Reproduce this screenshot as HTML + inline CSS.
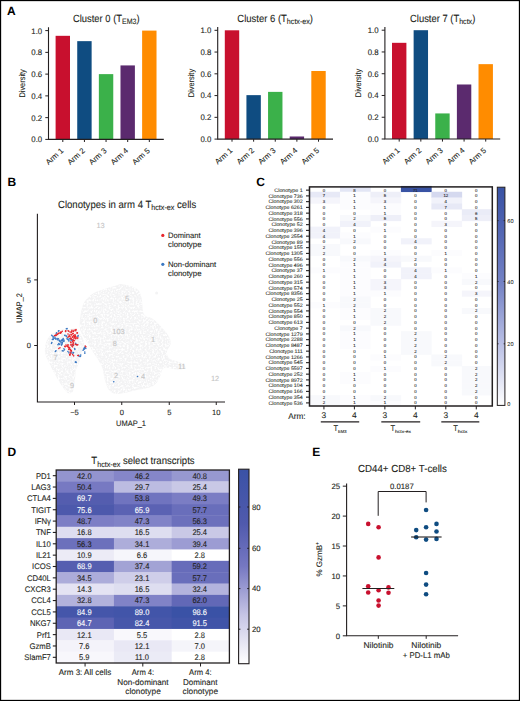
<!DOCTYPE html>
<html><head><meta charset="utf-8"><style>
html,body{margin:0;padding:0;background:#fff;width:520px;height:701px;overflow:hidden;}
svg{display:block;}
text{font-family:"Liberation Sans", sans-serif;text-rendering:geometricPrecision;stroke:#231f20;stroke-width:0.1px;}
</style></head><body>
<svg width="520" height="701" viewBox="0 0 520 701" fill="#231f20">
<rect width="520" height="701" fill="#fff"/>
<rect x="0.5" y="0.5" width="519" height="700" fill="none" stroke="#000" stroke-width="1.3"/>
<text x="6.90" y="15.20" font-size="12" fill="#000" font-weight="bold" style="stroke:none">A</text>
<text x="7.50" y="186.30" font-size="12" fill="#000" font-weight="bold" style="stroke:none">B</text>
<text x="256.20" y="186.20" font-size="12" fill="#000" font-weight="bold" style="stroke:none">C</text>
<text x="7.50" y="455.50" font-size="12" fill="#000" font-weight="bold" style="stroke:none">D</text>
<text x="312.30" y="455.70" font-size="12" fill="#000" font-weight="bold" style="stroke:none">E</text>
<rect x="55.60" y="35.82" width="14.4" height="103.58" fill="#c8102e"/>
<rect x="77.23" y="41.15" width="14.4" height="98.25" fill="#0f4c81"/>
<rect x="98.86" y="74.12" width="14.4" height="65.28" fill="#3bb14a"/>
<rect x="120.49" y="65.42" width="14.4" height="73.98" fill="#5b2a6e"/>
<rect x="142.12" y="30.60" width="14.4" height="108.80" fill="#ff8c00"/>
<path d="M48.50 27.30 V139.40 H163.80" fill="none" stroke="#231f20" stroke-width="1.1"/>
<line x1="45.30" y1="139.40" x2="48.50" y2="139.40" stroke="#231f20" stroke-width="1"/>
<text x="42.20" y="142.30" font-size="8.0" text-anchor="end" textLength="10.90" lengthAdjust="spacingAndGlyphs">0.0</text>
<line x1="45.30" y1="117.64" x2="48.50" y2="117.64" stroke="#231f20" stroke-width="1"/>
<text x="42.20" y="120.54" font-size="8.0" text-anchor="end" textLength="10.90" lengthAdjust="spacingAndGlyphs">0.2</text>
<line x1="45.30" y1="95.88" x2="48.50" y2="95.88" stroke="#231f20" stroke-width="1"/>
<text x="42.20" y="98.78" font-size="8.0" text-anchor="end" textLength="10.90" lengthAdjust="spacingAndGlyphs">0.4</text>
<line x1="45.30" y1="74.12" x2="48.50" y2="74.12" stroke="#231f20" stroke-width="1"/>
<text x="42.20" y="77.02" font-size="8.0" text-anchor="end" textLength="10.90" lengthAdjust="spacingAndGlyphs">0.6</text>
<line x1="45.30" y1="52.36" x2="48.50" y2="52.36" stroke="#231f20" stroke-width="1"/>
<text x="42.20" y="55.26" font-size="8.0" text-anchor="end" textLength="10.90" lengthAdjust="spacingAndGlyphs">0.8</text>
<line x1="45.30" y1="30.60" x2="48.50" y2="30.60" stroke="#231f20" stroke-width="1"/>
<text x="42.20" y="33.50" font-size="8.0" text-anchor="end" textLength="10.90" lengthAdjust="spacingAndGlyphs">1.0</text>
<line x1="62.80" y1="139.40" x2="62.80" y2="142.00" stroke="#231f20" stroke-width="1"/>
<text transform="translate(60.50,147.70) rotate(-42)" font-size="7.7" text-anchor="end" dy="5.0">Arm 1</text>
<line x1="84.43" y1="139.40" x2="84.43" y2="142.00" stroke="#231f20" stroke-width="1"/>
<text transform="translate(82.13,147.70) rotate(-42)" font-size="7.7" text-anchor="end" dy="5.0">Arm 2</text>
<line x1="106.06" y1="139.40" x2="106.06" y2="142.00" stroke="#231f20" stroke-width="1"/>
<text transform="translate(103.76,147.70) rotate(-42)" font-size="7.7" text-anchor="end" dy="5.0">Arm 3</text>
<line x1="127.69" y1="139.40" x2="127.69" y2="142.00" stroke="#231f20" stroke-width="1"/>
<text transform="translate(125.39,147.70) rotate(-42)" font-size="7.7" text-anchor="end" dy="5.0">Arm 4</text>
<line x1="149.32" y1="139.40" x2="149.32" y2="142.00" stroke="#231f20" stroke-width="1"/>
<text transform="translate(147.02,147.70) rotate(-42)" font-size="7.7" text-anchor="end" dy="5.0">Arm 5</text>
<text transform="translate(24.90,83.40) rotate(-90)" font-size="8.2" text-anchor="middle" textLength="28.40" lengthAdjust="spacingAndGlyphs" dy="0">Diversity</text>
<text x="73.00" y="22.20" font-size="10.4" textLength="66.60" lengthAdjust="spacingAndGlyphs">Cluster 0 (T<tspan font-size="7.8" dy="2.2">EM3</tspan><tspan dy="-2.2">)</tspan></text>
<rect x="224.80" y="30.30" width="14.4" height="108.80" fill="#c8102e"/>
<rect x="246.43" y="95.14" width="14.4" height="43.96" fill="#0f4c81"/>
<rect x="268.06" y="91.88" width="14.4" height="47.22" fill="#3bb14a"/>
<rect x="289.69" y="136.49" width="14.4" height="2.61" fill="#5b2a6e"/>
<rect x="311.32" y="70.99" width="14.4" height="68.11" fill="#ff8c00"/>
<path d="M217.70 27.00 V139.10 H333.00" fill="none" stroke="#231f20" stroke-width="1.1"/>
<line x1="214.50" y1="139.10" x2="217.70" y2="139.10" stroke="#231f20" stroke-width="1"/>
<text x="211.40" y="142.00" font-size="8.0" text-anchor="end" textLength="10.90" lengthAdjust="spacingAndGlyphs">0.0</text>
<line x1="214.50" y1="117.34" x2="217.70" y2="117.34" stroke="#231f20" stroke-width="1"/>
<text x="211.40" y="120.24" font-size="8.0" text-anchor="end" textLength="10.90" lengthAdjust="spacingAndGlyphs">0.2</text>
<line x1="214.50" y1="95.58" x2="217.70" y2="95.58" stroke="#231f20" stroke-width="1"/>
<text x="211.40" y="98.48" font-size="8.0" text-anchor="end" textLength="10.90" lengthAdjust="spacingAndGlyphs">0.4</text>
<line x1="214.50" y1="73.82" x2="217.70" y2="73.82" stroke="#231f20" stroke-width="1"/>
<text x="211.40" y="76.72" font-size="8.0" text-anchor="end" textLength="10.90" lengthAdjust="spacingAndGlyphs">0.6</text>
<line x1="214.50" y1="52.06" x2="217.70" y2="52.06" stroke="#231f20" stroke-width="1"/>
<text x="211.40" y="54.96" font-size="8.0" text-anchor="end" textLength="10.90" lengthAdjust="spacingAndGlyphs">0.8</text>
<line x1="214.50" y1="30.30" x2="217.70" y2="30.30" stroke="#231f20" stroke-width="1"/>
<text x="211.40" y="33.20" font-size="8.0" text-anchor="end" textLength="10.90" lengthAdjust="spacingAndGlyphs">1.0</text>
<line x1="232.00" y1="139.10" x2="232.00" y2="141.70" stroke="#231f20" stroke-width="1"/>
<text transform="translate(229.70,147.40) rotate(-42)" font-size="7.7" text-anchor="end" dy="5.0">Arm 1</text>
<line x1="253.63" y1="139.10" x2="253.63" y2="141.70" stroke="#231f20" stroke-width="1"/>
<text transform="translate(251.33,147.40) rotate(-42)" font-size="7.7" text-anchor="end" dy="5.0">Arm 2</text>
<line x1="275.26" y1="139.10" x2="275.26" y2="141.70" stroke="#231f20" stroke-width="1"/>
<text transform="translate(272.96,147.40) rotate(-42)" font-size="7.7" text-anchor="end" dy="5.0">Arm 3</text>
<line x1="296.89" y1="139.10" x2="296.89" y2="141.70" stroke="#231f20" stroke-width="1"/>
<text transform="translate(294.59,147.40) rotate(-42)" font-size="7.7" text-anchor="end" dy="5.0">Arm 4</text>
<line x1="318.52" y1="139.10" x2="318.52" y2="141.70" stroke="#231f20" stroke-width="1"/>
<text transform="translate(316.22,147.40) rotate(-42)" font-size="7.7" text-anchor="end" dy="5.0">Arm 5</text>
<text transform="translate(194.10,83.10) rotate(-90)" font-size="8.2" text-anchor="middle" textLength="28.40" lengthAdjust="spacingAndGlyphs" dy="0">Diversity</text>
<text x="237.30" y="21.90" font-size="10.4" textLength="75.70" lengthAdjust="spacingAndGlyphs">Cluster 6 (T<tspan font-size="7.8" dy="2.2">hctx-ex</tspan><tspan dy="-2.2">)</tspan></text>
<rect x="392.00" y="42.82" width="14.4" height="96.18" fill="#c8102e"/>
<rect x="413.63" y="30.20" width="14.4" height="108.80" fill="#0f4c81"/>
<rect x="435.26" y="113.43" width="14.4" height="25.57" fill="#3bb14a"/>
<rect x="456.89" y="84.49" width="14.4" height="54.51" fill="#5b2a6e"/>
<rect x="478.52" y="64.15" width="14.4" height="74.85" fill="#ff8c00"/>
<path d="M384.90 26.90 V139.00 H500.20" fill="none" stroke="#231f20" stroke-width="1.1"/>
<line x1="381.70" y1="139.00" x2="384.90" y2="139.00" stroke="#231f20" stroke-width="1"/>
<text x="378.60" y="141.90" font-size="8.0" text-anchor="end" textLength="10.90" lengthAdjust="spacingAndGlyphs">0.0</text>
<line x1="381.70" y1="117.24" x2="384.90" y2="117.24" stroke="#231f20" stroke-width="1"/>
<text x="378.60" y="120.14" font-size="8.0" text-anchor="end" textLength="10.90" lengthAdjust="spacingAndGlyphs">0.2</text>
<line x1="381.70" y1="95.48" x2="384.90" y2="95.48" stroke="#231f20" stroke-width="1"/>
<text x="378.60" y="98.38" font-size="8.0" text-anchor="end" textLength="10.90" lengthAdjust="spacingAndGlyphs">0.4</text>
<line x1="381.70" y1="73.72" x2="384.90" y2="73.72" stroke="#231f20" stroke-width="1"/>
<text x="378.60" y="76.62" font-size="8.0" text-anchor="end" textLength="10.90" lengthAdjust="spacingAndGlyphs">0.6</text>
<line x1="381.70" y1="51.96" x2="384.90" y2="51.96" stroke="#231f20" stroke-width="1"/>
<text x="378.60" y="54.86" font-size="8.0" text-anchor="end" textLength="10.90" lengthAdjust="spacingAndGlyphs">0.8</text>
<line x1="381.70" y1="30.20" x2="384.90" y2="30.20" stroke="#231f20" stroke-width="1"/>
<text x="378.60" y="33.10" font-size="8.0" text-anchor="end" textLength="10.90" lengthAdjust="spacingAndGlyphs">1.0</text>
<line x1="399.20" y1="139.00" x2="399.20" y2="141.60" stroke="#231f20" stroke-width="1"/>
<text transform="translate(396.90,147.30) rotate(-42)" font-size="7.7" text-anchor="end" dy="5.0">Arm 1</text>
<line x1="420.83" y1="139.00" x2="420.83" y2="141.60" stroke="#231f20" stroke-width="1"/>
<text transform="translate(418.53,147.30) rotate(-42)" font-size="7.7" text-anchor="end" dy="5.0">Arm 2</text>
<line x1="442.46" y1="139.00" x2="442.46" y2="141.60" stroke="#231f20" stroke-width="1"/>
<text transform="translate(440.16,147.30) rotate(-42)" font-size="7.7" text-anchor="end" dy="5.0">Arm 3</text>
<line x1="464.09" y1="139.00" x2="464.09" y2="141.60" stroke="#231f20" stroke-width="1"/>
<text transform="translate(461.79,147.30) rotate(-42)" font-size="7.7" text-anchor="end" dy="5.0">Arm 4</text>
<line x1="485.72" y1="139.00" x2="485.72" y2="141.60" stroke="#231f20" stroke-width="1"/>
<text transform="translate(483.42,147.30) rotate(-42)" font-size="7.7" text-anchor="end" dy="5.0">Arm 5</text>
<text transform="translate(361.30,83.00) rotate(-90)" font-size="8.2" text-anchor="middle" textLength="28.40" lengthAdjust="spacingAndGlyphs" dy="0">Diversity</text>
<text x="410.00" y="21.80" font-size="10.4" textLength="65.30" lengthAdjust="spacingAndGlyphs">Cluster 7 (T<tspan font-size="7.8" dy="2.2">hctx</tspan><tspan dy="-2.2">)</tspan></text>
<text x="58" y="207.7" font-size="10.4" textLength="138.2" lengthAdjust="spacingAndGlyphs">Clonotypes in arm 4 T<tspan font-size="7.8" dy="2.2">hctx-ex</tspan><tspan dy="-2.2"> cells</tspan></text>
<defs><filter id="speck" x="0" y="0" width="1" height="1"><feTurbulence type="fractalNoise" baseFrequency="0.55" numOctaves="2" seed="7" result="n"/><feColorMatrix in="n" type="matrix" values="0 0 0 0 1  0 0 0 0 1  0 0 0 0 1  0 0 0 -3.5 2.0" result="w"/><feComposite in="w" in2="SourceGraphic" operator="in" result="wm"/><feMerge><feMergeNode in="SourceGraphic"/><feMergeNode in="wm"/></feMerge></filter></defs>
<g filter="url(#speck)"><path d="M123.1 284.2 C126.6 284.8 133.9 286.6 137.0 288.9 C140.1 291.2 140.4 293.9 141.6 298.1 C142.8 302.3 142.0 310.8 143.9 314.3 C145.8 317.8 150.0 316.6 153.1 318.9 C156.2 321.2 159.7 325.0 162.4 328.1 C165.1 331.2 168.0 334.7 169.3 337.4 C170.7 340.1 170.9 342.0 170.5 344.3 C170.1 346.6 167.2 348.8 167.0 351.2 C166.8 353.6 167.0 356.6 169.3 358.5 C171.6 360.4 178.2 361.3 180.9 362.8 C183.6 364.3 185.9 366.2 185.5 367.4 C185.1 368.5 182.1 369.6 178.5 369.7 C174.9 369.8 167.1 366.9 164.0 368.0 C160.9 369.1 161.8 373.6 160.0 376.6 C158.2 379.6 157.3 383.6 153.1 385.9 C148.9 388.2 140.5 389.2 134.7 390.5 C128.9 391.8 122.7 393.9 118.5 393.9 C114.3 393.9 111.6 393.0 109.3 390.5 C107.0 388.0 105.8 382.8 104.6 378.9 C103.4 375.0 103.8 371.2 102.3 367.4 C100.8 363.5 97.7 359.6 95.4 355.8 C93.1 352.0 91.0 348.5 88.5 344.3 C86.0 340.1 81.8 335.0 80.4 330.4 C79.1 325.8 79.8 321.2 80.4 316.6 C81.0 312.0 81.8 306.6 83.9 302.7 C86.0 298.8 89.6 295.8 93.1 293.5 C96.5 291.2 100.8 290.2 104.6 288.9 C108.4 287.5 113.1 286.2 116.2 285.4 C119.3 284.6 119.6 283.6 123.1 284.2 Z" fill="#f3f3f4"/><path d="M44.9 349.0 C45.1 346.3 45.8 342.5 47.0 340.0 C48.2 337.5 49.7 335.6 51.9 333.9 C54.1 332.2 57.0 330.8 60.0 330.0 C63.0 329.2 67.2 329.1 70.0 329.0 C72.8 328.9 74.5 327.7 76.8 329.7 C79.1 331.7 82.8 337.1 83.7 340.8 C84.6 344.5 82.7 348.6 82.0 352.0 C81.3 355.4 80.5 358.5 79.5 361.5 C78.5 364.5 76.7 367.7 76.0 370.0 C75.3 372.3 75.7 372.9 75.4 375.4 C75.1 377.9 74.5 382.2 74.0 385.0 C73.5 387.8 73.6 390.7 72.6 392.0 C71.6 393.3 69.4 393.4 68.0 393.0 C66.6 392.6 66.1 391.8 64.3 389.3 C62.5 386.8 59.3 381.9 57.0 378.0 C54.7 374.1 52.3 369.4 50.5 365.7 C48.7 362.0 46.9 358.8 46.0 356.0 C45.1 353.2 44.7 351.7 44.9 349.0 Z" fill="#f3f3f4"/></g>
<circle cx="156.6" cy="293" r="1.5" fill="#f3f3f4"/>
<text x="100.50" y="228.00" font-size="7.4" text-anchor="middle" fill="#c4c4c4" style="stroke:#c4c4c4">13</text>
<text x="127.00" y="301.00" font-size="7.4" text-anchor="middle" fill="#c4c4c4" style="stroke:#c4c4c4">5</text>
<text x="95.40" y="323.00" font-size="7.4" text-anchor="middle" fill="#c4c4c4" style="stroke:#c4c4c4">0</text>
<text x="118.50" y="333.50" font-size="7.4" text-anchor="middle" fill="#c4c4c4" style="stroke:#c4c4c4">103</text>
<text x="114.80" y="346.30" font-size="7.4" text-anchor="middle" fill="#c4c4c4" style="stroke:#c4c4c4">8</text>
<text x="153.00" y="342.00" font-size="7.4" text-anchor="middle" fill="#c4c4c4" style="stroke:#c4c4c4">1</text>
<text x="55.60" y="360.20" font-size="7.4" text-anchor="middle" fill="#c4c4c4" style="stroke:#c4c4c4">7</text>
<text x="72.00" y="388.20" font-size="7.4" text-anchor="middle" fill="#c4c4c4" style="stroke:#c4c4c4">9</text>
<text x="116.00" y="378.00" font-size="7.4" text-anchor="middle" fill="#c4c4c4" style="stroke:#c4c4c4">2</text>
<text x="143.00" y="379.30" font-size="7.4" text-anchor="middle" fill="#c4c4c4" style="stroke:#c4c4c4">4</text>
<text x="181.80" y="369.30" font-size="7.4" text-anchor="middle" fill="#c4c4c4" style="stroke:#c4c4c4">11</text>
<text x="215.00" y="380.80" font-size="7.4" text-anchor="middle" fill="#c4c4c4" style="stroke:#c4c4c4">12</text>
<path d="M37.4 213.7 V402 H225" fill="none" stroke="#231f20" stroke-width="1.1"/>
<line x1="34.20" y1="279.90" x2="37.40" y2="279.90" stroke="#231f20" stroke-width="1"/>
<text x="30.90" y="282.60" font-size="7.6" text-anchor="end">5</text>
<line x1="34.20" y1="345.50" x2="37.40" y2="345.50" stroke="#231f20" stroke-width="1"/>
<text x="30.90" y="348.20" font-size="7.6" text-anchor="end">0</text>
<line x1="74.50" y1="402.00" x2="74.50" y2="405.00" stroke="#231f20" stroke-width="1"/>
<text x="74.50" y="414.50" font-size="7.6" text-anchor="middle">−5</text>
<line x1="121.75" y1="402.00" x2="121.75" y2="405.00" stroke="#231f20" stroke-width="1"/>
<text x="121.75" y="414.50" font-size="7.6" text-anchor="middle">0</text>
<line x1="169.25" y1="402.00" x2="169.25" y2="405.00" stroke="#231f20" stroke-width="1"/>
<text x="169.25" y="414.50" font-size="7.6" text-anchor="middle">5</text>
<line x1="216.25" y1="402.00" x2="216.25" y2="405.00" stroke="#231f20" stroke-width="1"/>
<text x="216.25" y="414.50" font-size="7.6" text-anchor="middle">10</text>
<text x="131.00" y="426.30" font-size="8.0" text-anchor="middle" textLength="30.00" lengthAdjust="spacingAndGlyphs">UMAP_1</text>
<text transform="translate(21.60,307.90) rotate(-90)" font-size="8.0" text-anchor="middle" textLength="29.70" lengthAdjust="spacingAndGlyphs" dy="0">UMAP_2</text>
<circle cx="162.8" cy="235.4" r="1.6" fill="#e8262c"/>
<text x="168.00" y="237.80" font-size="7.8" textLength="32.50" lengthAdjust="spacingAndGlyphs">Dominant</text>
<text x="168.00" y="247.00" font-size="7.8" textLength="33.50" lengthAdjust="spacingAndGlyphs">clonotype</text>
<circle cx="162.8" cy="264.3" r="1.6" fill="#3a78c3"/>
<text x="168.00" y="266.60" font-size="7.8" textLength="48.20" lengthAdjust="spacingAndGlyphs">Non-dominant</text>
<text x="168.00" y="275.60" font-size="7.8" textLength="33.50" lengthAdjust="spacingAndGlyphs">clonotype</text>
<circle cx="67.06" cy="328.65" r="0.8" fill="#3a78c3"/>
<circle cx="66.38" cy="328.77" r="0.8" fill="#3a78c3"/>
<circle cx="58.84" cy="330.81" r="0.8" fill="#3a78c3"/>
<circle cx="58.50" cy="331.08" r="0.8" fill="#3a78c3"/>
<circle cx="56.25" cy="333.84" r="0.8" fill="#3a78c3"/>
<circle cx="56.57" cy="332.71" r="0.8" fill="#3a78c3"/>
<circle cx="54.52" cy="336.00" r="0.8" fill="#3a78c3"/>
<circle cx="53.25" cy="336.88" r="0.8" fill="#3a78c3"/>
<circle cx="52.35" cy="336.00" r="0.8" fill="#3a78c3"/>
<circle cx="51.73" cy="335.31" r="0.8" fill="#3a78c3"/>
<circle cx="53.22" cy="338.17" r="0.8" fill="#3a78c3"/>
<circle cx="54.51" cy="338.09" r="0.8" fill="#3a78c3"/>
<circle cx="52.35" cy="339.46" r="0.8" fill="#3a78c3"/>
<circle cx="53.23" cy="339.40" r="0.8" fill="#3a78c3"/>
<circle cx="51.49" cy="343.36" r="0.8" fill="#3a78c3"/>
<circle cx="51.85" cy="342.45" r="0.8" fill="#3a78c3"/>
<circle cx="55.38" cy="338.17" r="0.8" fill="#3a78c3"/>
<circle cx="55.73" cy="339.12" r="0.8" fill="#3a78c3"/>
<circle cx="57.11" cy="338.60" r="0.8" fill="#3a78c3"/>
<circle cx="57.17" cy="339.23" r="0.8" fill="#3a78c3"/>
<circle cx="57.98" cy="339.90" r="0.8" fill="#3a78c3"/>
<circle cx="58.42" cy="338.76" r="0.8" fill="#3a78c3"/>
<circle cx="59.27" cy="340.76" r="0.8" fill="#3a78c3"/>
<circle cx="59.94" cy="341.00" r="0.8" fill="#3a78c3"/>
<circle cx="60.14" cy="341.63" r="0.8" fill="#3a78c3"/>
<circle cx="59.62" cy="340.41" r="0.8" fill="#3a78c3"/>
<circle cx="61.44" cy="340.33" r="0.8" fill="#3a78c3"/>
<circle cx="62.39" cy="340.26" r="0.8" fill="#3a78c3"/>
<circle cx="62.30" cy="339.46" r="0.8" fill="#3a78c3"/>
<circle cx="62.87" cy="340.45" r="0.8" fill="#3a78c3"/>
<circle cx="63.17" cy="338.60" r="0.8" fill="#3a78c3"/>
<circle cx="63.72" cy="339.69" r="0.8" fill="#3a78c3"/>
<circle cx="64.03" cy="340.76" r="0.8" fill="#3a78c3"/>
<circle cx="63.76" cy="341.54" r="0.8" fill="#3a78c3"/>
<circle cx="62.30" cy="342.49" r="0.8" fill="#3a78c3"/>
<circle cx="62.16" cy="343.62" r="0.8" fill="#3a78c3"/>
<circle cx="61.00" cy="342.92" r="0.8" fill="#3a78c3"/>
<circle cx="61.99" cy="341.88" r="0.8" fill="#3a78c3"/>
<circle cx="59.71" cy="344.22" r="0.8" fill="#3a78c3"/>
<circle cx="58.76" cy="343.49" r="0.8" fill="#3a78c3"/>
<circle cx="57.98" cy="344.65" r="0.8" fill="#3a78c3"/>
<circle cx="59.19" cy="344.49" r="0.8" fill="#3a78c3"/>
<circle cx="61.44" cy="345.09" r="0.8" fill="#3a78c3"/>
<circle cx="61.77" cy="344.57" r="0.8" fill="#3a78c3"/>
<circle cx="64.90" cy="335.57" r="0.8" fill="#3a78c3"/>
<circle cx="64.92" cy="335.27" r="0.8" fill="#3a78c3"/>
<circle cx="66.63" cy="336.00" r="0.8" fill="#3a78c3"/>
<circle cx="66.24" cy="336.22" r="0.8" fill="#3a78c3"/>
<circle cx="67.06" cy="338.17" r="0.8" fill="#3a78c3"/>
<circle cx="67.28" cy="339.22" r="0.8" fill="#3a78c3"/>
<circle cx="68.36" cy="339.90" r="0.8" fill="#3a78c3"/>
<circle cx="68.83" cy="341.01" r="0.8" fill="#3a78c3"/>
<circle cx="69.22" cy="338.60" r="0.8" fill="#3a78c3"/>
<circle cx="70.15" cy="339.88" r="0.8" fill="#3a78c3"/>
<circle cx="71.82" cy="340.76" r="0.8" fill="#3a78c3"/>
<circle cx="72.26" cy="339.89" r="0.8" fill="#3a78c3"/>
<circle cx="75.71" cy="343.36" r="0.8" fill="#3a78c3"/>
<circle cx="76.65" cy="344.56" r="0.8" fill="#3a78c3"/>
<circle cx="72.25" cy="345.09" r="0.8" fill="#3a78c3"/>
<circle cx="73.30" cy="345.27" r="0.8" fill="#3a78c3"/>
<circle cx="55.38" cy="351.57" r="0.8" fill="#3a78c3"/>
<circle cx="55.94" cy="350.82" r="0.8" fill="#3a78c3"/>
<circle cx="62.30" cy="350.71" r="0.8" fill="#3a78c3"/>
<circle cx="63.16" cy="350.90" r="0.8" fill="#3a78c3"/>
<circle cx="64.46" cy="349.84" r="0.8" fill="#3a78c3"/>
<circle cx="63.90" cy="348.71" r="0.8" fill="#3a78c3"/>
<circle cx="67.92" cy="351.57" r="0.8" fill="#3a78c3"/>
<circle cx="68.84" cy="352.85" r="0.8" fill="#3a78c3"/>
<circle cx="71.82" cy="352.01" r="0.8" fill="#3a78c3"/>
<circle cx="70.75" cy="352.79" r="0.8" fill="#3a78c3"/>
<circle cx="74.84" cy="349.41" r="0.8" fill="#3a78c3"/>
<circle cx="74.61" cy="348.50" r="0.8" fill="#3a78c3"/>
<circle cx="73.55" cy="352.44" r="0.8" fill="#3a78c3"/>
<circle cx="73.01" cy="353.14" r="0.8" fill="#3a78c3"/>
<circle cx="83.06" cy="350.28" r="0.8" fill="#3a78c3"/>
<circle cx="84.03" cy="349.09" r="0.8" fill="#3a78c3"/>
<circle cx="83.93" cy="349.41" r="0.8" fill="#3a78c3"/>
<circle cx="84.23" cy="348.23" r="0.8" fill="#3a78c3"/>
<circle cx="84.36" cy="348.11" r="0.8" fill="#3a78c3"/>
<circle cx="84.93" cy="347.67" r="0.8" fill="#3a78c3"/>
<circle cx="84.79" cy="347.25" r="0.8" fill="#3a78c3"/>
<circle cx="85.78" cy="348.50" r="0.8" fill="#3a78c3"/>
<circle cx="84.79" cy="352.01" r="0.8" fill="#3a78c3"/>
<circle cx="84.81" cy="353.30" r="0.8" fill="#3a78c3"/>
<circle cx="79.17" cy="356.33" r="0.8" fill="#3a78c3"/>
<circle cx="78.67" cy="355.23" r="0.8" fill="#3a78c3"/>
<circle cx="80.47" cy="356.33" r="0.8" fill="#3a78c3"/>
<circle cx="80.73" cy="355.11" r="0.8" fill="#3a78c3"/>
<circle cx="76.14" cy="362.39" r="0.8" fill="#3a78c3"/>
<circle cx="75.36" cy="362.15" r="0.8" fill="#3a78c3"/>
<circle cx="77.87" cy="336.44" r="0.8" fill="#3a78c3"/>
<circle cx="78.16" cy="335.54" r="0.8" fill="#3a78c3"/>
<circle cx="62.30" cy="331.25" r="0.8" fill="#e8262c"/>
<circle cx="61.11" cy="332.20" r="0.8" fill="#e8262c"/>
<circle cx="61.00" cy="332.11" r="0.8" fill="#e8262c"/>
<circle cx="60.52" cy="333.30" r="0.8" fill="#e8262c"/>
<circle cx="59.71" cy="332.98" r="0.8" fill="#e8262c"/>
<circle cx="60.74" cy="332.66" r="0.8" fill="#e8262c"/>
<circle cx="58.41" cy="333.41" r="0.8" fill="#e8262c"/>
<circle cx="58.31" cy="333.46" r="0.8" fill="#e8262c"/>
<circle cx="57.11" cy="334.27" r="0.8" fill="#e8262c"/>
<circle cx="57.48" cy="334.52" r="0.8" fill="#e8262c"/>
<circle cx="55.81" cy="335.14" r="0.8" fill="#e8262c"/>
<circle cx="55.97" cy="335.45" r="0.8" fill="#e8262c"/>
<circle cx="54.52" cy="335.57" r="0.8" fill="#e8262c"/>
<circle cx="55.66" cy="335.59" r="0.8" fill="#e8262c"/>
<circle cx="65.76" cy="330.81" r="0.8" fill="#e8262c"/>
<circle cx="65.58" cy="331.39" r="0.8" fill="#e8262c"/>
<circle cx="68.79" cy="331.25" r="0.8" fill="#e8262c"/>
<circle cx="68.11" cy="330.73" r="0.8" fill="#e8262c"/>
<circle cx="70.09" cy="332.11" r="0.8" fill="#e8262c"/>
<circle cx="71.33" cy="332.17" r="0.8" fill="#e8262c"/>
<circle cx="71.82" cy="331.68" r="0.8" fill="#e8262c"/>
<circle cx="71.94" cy="330.41" r="0.8" fill="#e8262c"/>
<circle cx="73.55" cy="331.25" r="0.8" fill="#e8262c"/>
<circle cx="73.33" cy="331.45" r="0.8" fill="#e8262c"/>
<circle cx="75.28" cy="329.95" r="0.8" fill="#e8262c"/>
<circle cx="74.03" cy="330.25" r="0.8" fill="#e8262c"/>
<circle cx="75.71" cy="330.81" r="0.8" fill="#e8262c"/>
<circle cx="76.05" cy="329.67" r="0.8" fill="#e8262c"/>
<circle cx="77.01" cy="332.98" r="0.8" fill="#e8262c"/>
<circle cx="77.34" cy="332.89" r="0.8" fill="#e8262c"/>
<circle cx="72.68" cy="333.84" r="0.8" fill="#e8262c"/>
<circle cx="73.15" cy="333.46" r="0.8" fill="#e8262c"/>
<circle cx="70.95" cy="334.27" r="0.8" fill="#e8262c"/>
<circle cx="71.49" cy="334.89" r="0.8" fill="#e8262c"/>
<circle cx="69.22" cy="335.14" r="0.8" fill="#e8262c"/>
<circle cx="67.98" cy="334.00" r="0.8" fill="#e8262c"/>
<circle cx="73.55" cy="335.57" r="0.8" fill="#e8262c"/>
<circle cx="74.00" cy="336.78" r="0.8" fill="#e8262c"/>
<circle cx="75.28" cy="335.14" r="0.8" fill="#e8262c"/>
<circle cx="74.63" cy="335.02" r="0.8" fill="#e8262c"/>
<circle cx="74.41" cy="336.87" r="0.8" fill="#e8262c"/>
<circle cx="74.65" cy="336.40" r="0.8" fill="#e8262c"/>
<circle cx="72.68" cy="337.30" r="0.8" fill="#e8262c"/>
<circle cx="72.33" cy="336.81" r="0.8" fill="#e8262c"/>
<circle cx="70.95" cy="338.17" r="0.8" fill="#e8262c"/>
<circle cx="70.61" cy="338.41" r="0.8" fill="#e8262c"/>
<circle cx="71.82" cy="339.46" r="0.8" fill="#e8262c"/>
<circle cx="71.30" cy="339.14" r="0.8" fill="#e8262c"/>
<circle cx="73.55" cy="339.03" r="0.8" fill="#e8262c"/>
<circle cx="74.25" cy="337.80" r="0.8" fill="#e8262c"/>
<circle cx="75.28" cy="338.17" r="0.8" fill="#e8262c"/>
<circle cx="75.46" cy="338.78" r="0.8" fill="#e8262c"/>
<circle cx="76.14" cy="337.30" r="0.8" fill="#e8262c"/>
<circle cx="75.65" cy="336.58" r="0.8" fill="#e8262c"/>
<circle cx="77.01" cy="338.60" r="0.8" fill="#e8262c"/>
<circle cx="77.80" cy="337.92" r="0.8" fill="#e8262c"/>
<circle cx="74.41" cy="340.76" r="0.8" fill="#e8262c"/>
<circle cx="73.60" cy="340.59" r="0.8" fill="#e8262c"/>
<circle cx="72.68" cy="341.63" r="0.8" fill="#e8262c"/>
<circle cx="73.20" cy="340.59" r="0.8" fill="#e8262c"/>
<circle cx="70.95" cy="342.49" r="0.8" fill="#e8262c"/>
<circle cx="70.49" cy="342.06" r="0.8" fill="#e8262c"/>
<circle cx="69.22" cy="336.44" r="0.8" fill="#e8262c"/>
<circle cx="70.09" cy="336.28" r="0.8" fill="#e8262c"/>
<circle cx="67.92" cy="337.30" r="0.8" fill="#e8262c"/>
<circle cx="68.85" cy="336.44" r="0.8" fill="#e8262c"/>
<circle cx="73.55" cy="342.92" r="0.8" fill="#e8262c"/>
<circle cx="73.12" cy="343.31" r="0.8" fill="#e8262c"/>
<circle cx="67.49" cy="345.09" r="0.8" fill="#e8262c"/>
<circle cx="68.49" cy="344.96" r="0.8" fill="#e8262c"/>
<circle cx="66.63" cy="345.95" r="0.8" fill="#e8262c"/>
<circle cx="65.91" cy="344.97" r="0.8" fill="#e8262c"/>
<circle cx="70.95" cy="345.09" r="0.8" fill="#e8262c"/>
<circle cx="71.03" cy="344.28" r="0.8" fill="#e8262c"/>
<circle cx="71.82" cy="345.95" r="0.8" fill="#e8262c"/>
<circle cx="72.61" cy="346.83" r="0.8" fill="#e8262c"/>
<circle cx="73.55" cy="345.09" r="0.8" fill="#e8262c"/>
<circle cx="72.72" cy="344.51" r="0.8" fill="#e8262c"/>
<circle cx="75.28" cy="344.22" r="0.8" fill="#e8262c"/>
<circle cx="76.08" cy="344.59" r="0.8" fill="#e8262c"/>
<circle cx="77.01" cy="345.09" r="0.8" fill="#e8262c"/>
<circle cx="77.80" cy="344.68" r="0.8" fill="#e8262c"/>
<circle cx="69.65" cy="347.68" r="0.8" fill="#e8262c"/>
<circle cx="68.69" cy="347.14" r="0.8" fill="#e8262c"/>
<circle cx="68.79" cy="349.41" r="0.8" fill="#e8262c"/>
<circle cx="69.55" cy="348.82" r="0.8" fill="#e8262c"/>
<circle cx="70.52" cy="349.84" r="0.8" fill="#e8262c"/>
<circle cx="70.12" cy="349.63" r="0.8" fill="#e8262c"/>
<circle cx="71.38" cy="350.71" r="0.8" fill="#e8262c"/>
<circle cx="71.18" cy="350.47" r="0.8" fill="#e8262c"/>
<circle cx="70.09" cy="352.01" r="0.8" fill="#e8262c"/>
<circle cx="71.18" cy="351.11" r="0.8" fill="#e8262c"/>
<circle cx="70.95" cy="353.30" r="0.8" fill="#e8262c"/>
<circle cx="69.66" cy="354.46" r="0.8" fill="#e8262c"/>
<circle cx="72.68" cy="354.60" r="0.8" fill="#e8262c"/>
<circle cx="73.67" cy="355.87" r="0.8" fill="#e8262c"/>
<circle cx="70.09" cy="354.17" r="0.8" fill="#e8262c"/>
<circle cx="69.92" cy="355.34" r="0.8" fill="#e8262c"/>
<circle cx="58.84" cy="348.55" r="0.8" fill="#e8262c"/>
<circle cx="59.95" cy="347.82" r="0.8" fill="#e8262c"/>
<circle cx="85.22" cy="345.95" r="0.8" fill="#e8262c"/>
<circle cx="85.86" cy="346.83" r="0.8" fill="#e8262c"/>
<circle cx="77.87" cy="355.47" r="0.8" fill="#e8262c"/>
<circle cx="78.30" cy="355.52" r="0.8" fill="#e8262c"/>
<circle cx="65.33" cy="346.82" r="0.8" fill="#e8262c"/>
<circle cx="64.78" cy="346.40" r="0.8" fill="#e8262c"/>
<circle cx="68.36" cy="347.68" r="0.8" fill="#e8262c"/>
<circle cx="67.65" cy="346.56" r="0.8" fill="#e8262c"/>
<circle cx="75.75" cy="362.00" r="0.8" fill="#3a78c3"/>
<circle cx="113.75" cy="381.75" r="0.8" fill="#3a78c3"/>
<circle cx="137.50" cy="376.50" r="0.8" fill="#3a78c3"/>
<rect x="339.97" y="185.95" width="30.77" height="6.11" fill="#e3e6f5"/>
<rect x="400.90" y="185.95" width="30.77" height="6.11" fill="#3953a4"/>
<rect x="309.50" y="191.76" width="30.77" height="6.11" fill="#e7e9f6"/>
<rect x="339.97" y="191.76" width="30.77" height="6.11" fill="#fcfcfe"/>
<rect x="370.43" y="191.76" width="30.77" height="6.11" fill="#eeeff8"/>
<rect x="431.37" y="191.76" width="30.77" height="6.11" fill="#d5d9ef"/>
<rect x="309.50" y="197.57" width="30.77" height="6.11" fill="#f5f5fb"/>
<rect x="339.97" y="197.57" width="30.77" height="6.11" fill="#fcfcfe"/>
<rect x="370.43" y="197.57" width="30.77" height="6.11" fill="#f5f5fb"/>
<rect x="431.37" y="197.57" width="30.77" height="6.11" fill="#f1f2fa"/>
<rect x="339.97" y="203.39" width="30.77" height="6.11" fill="#fcfcfe"/>
<rect x="370.43" y="203.39" width="30.77" height="6.11" fill="#fcfcfe"/>
<rect x="431.37" y="203.39" width="30.77" height="6.11" fill="#e7e9f6"/>
<rect x="370.43" y="209.20" width="30.77" height="6.11" fill="#fcfcfe"/>
<rect x="461.83" y="209.20" width="30.77" height="6.11" fill="#eaecf7"/>
<rect x="339.97" y="215.01" width="30.77" height="6.11" fill="#f8f9fc"/>
<rect x="370.43" y="215.01" width="30.77" height="6.11" fill="#eeeff8"/>
<rect x="461.83" y="215.01" width="30.77" height="6.11" fill="#eeeff8"/>
<rect x="339.97" y="220.82" width="30.77" height="6.11" fill="#f1f2fa"/>
<rect x="431.37" y="220.82" width="30.77" height="6.11" fill="#f5f5fb"/>
<rect x="309.50" y="226.63" width="30.77" height="6.11" fill="#f1f2fa"/>
<rect x="370.43" y="226.63" width="30.77" height="6.11" fill="#fcfcfe"/>
<rect x="309.50" y="232.44" width="30.77" height="6.11" fill="#f1f2fa"/>
<rect x="339.97" y="232.44" width="30.77" height="6.11" fill="#fcfcfe"/>
<rect x="339.97" y="238.26" width="30.77" height="6.11" fill="#f8f9fc"/>
<rect x="400.90" y="238.26" width="30.77" height="6.11" fill="#f1f2fa"/>
<rect x="309.50" y="244.07" width="30.77" height="6.11" fill="#f8f9fc"/>
<rect x="309.50" y="249.88" width="30.77" height="6.11" fill="#f8f9fc"/>
<rect x="370.43" y="249.88" width="30.77" height="6.11" fill="#fcfcfe"/>
<rect x="431.37" y="249.88" width="30.77" height="6.11" fill="#fcfcfe"/>
<rect x="339.97" y="255.69" width="30.77" height="6.11" fill="#f8f9fc"/>
<rect x="370.43" y="255.69" width="30.77" height="6.11" fill="#f5f5fb"/>
<rect x="400.90" y="255.69" width="30.77" height="6.11" fill="#f8f9fc"/>
<rect x="339.97" y="261.50" width="30.77" height="6.11" fill="#fcfcfe"/>
<rect x="370.43" y="261.50" width="30.77" height="6.11" fill="#f1f2fa"/>
<rect x="309.50" y="267.32" width="30.77" height="6.11" fill="#fcfcfe"/>
<rect x="339.97" y="267.32" width="30.77" height="6.11" fill="#fcfcfe"/>
<rect x="400.90" y="267.32" width="30.77" height="6.11" fill="#f1f2fa"/>
<rect x="431.37" y="267.32" width="30.77" height="6.11" fill="#fcfcfe"/>
<rect x="339.97" y="273.13" width="30.77" height="6.11" fill="#fcfcfe"/>
<rect x="400.90" y="273.13" width="30.77" height="6.11" fill="#f1f2fa"/>
<rect x="461.83" y="273.13" width="30.77" height="6.11" fill="#fcfcfe"/>
<rect x="339.97" y="278.94" width="30.77" height="6.11" fill="#fcfcfe"/>
<rect x="370.43" y="278.94" width="30.77" height="6.11" fill="#f5f5fb"/>
<rect x="461.83" y="278.94" width="30.77" height="6.11" fill="#f8f9fc"/>
<rect x="339.97" y="284.75" width="30.77" height="6.11" fill="#fcfcfe"/>
<rect x="370.43" y="284.75" width="30.77" height="6.11" fill="#f5f5fb"/>
<rect x="339.97" y="290.56" width="30.77" height="6.11" fill="#fcfcfe"/>
<rect x="370.43" y="290.56" width="30.77" height="6.11" fill="#fcfcfe"/>
<rect x="461.83" y="290.56" width="30.77" height="6.11" fill="#f5f5fb"/>
<rect x="339.97" y="296.38" width="30.77" height="6.11" fill="#f8f9fc"/>
<rect x="309.50" y="302.19" width="30.77" height="6.11" fill="#fcfcfe"/>
<rect x="339.97" y="302.19" width="30.77" height="6.11" fill="#f8f9fc"/>
<rect x="339.97" y="308.00" width="30.77" height="6.11" fill="#fcfcfe"/>
<rect x="370.43" y="308.00" width="30.77" height="6.11" fill="#f8f9fc"/>
<rect x="461.83" y="308.00" width="30.77" height="6.11" fill="#f8f9fc"/>
<rect x="339.97" y="313.81" width="30.77" height="6.11" fill="#fcfcfe"/>
<rect x="370.43" y="313.81" width="30.77" height="6.11" fill="#f8f9fc"/>
<rect x="370.43" y="319.62" width="30.77" height="6.11" fill="#f8f9fc"/>
<rect x="339.97" y="325.43" width="30.77" height="6.11" fill="#f8f9fc"/>
<rect x="339.97" y="331.25" width="30.77" height="6.11" fill="#fcfcfe"/>
<rect x="400.90" y="331.25" width="30.77" height="6.11" fill="#f8f9fc"/>
<rect x="339.97" y="337.06" width="30.77" height="6.11" fill="#fcfcfe"/>
<rect x="400.90" y="337.06" width="30.77" height="6.11" fill="#f8f9fc"/>
<rect x="339.97" y="342.87" width="30.77" height="6.11" fill="#fcfcfe"/>
<rect x="400.90" y="342.87" width="30.77" height="6.11" fill="#f8f9fc"/>
<rect x="400.90" y="348.68" width="30.77" height="6.11" fill="#f8f9fc"/>
<rect x="370.43" y="354.49" width="30.77" height="6.11" fill="#fcfcfe"/>
<rect x="431.37" y="354.49" width="30.77" height="6.11" fill="#f8f9fc"/>
<rect x="431.37" y="360.31" width="30.77" height="6.11" fill="#f8f9fc"/>
<rect x="370.43" y="366.12" width="30.77" height="6.11" fill="#fcfcfe"/>
<rect x="461.83" y="366.12" width="30.77" height="6.11" fill="#f8f9fc"/>
<rect x="339.97" y="371.93" width="30.77" height="6.11" fill="#fcfcfe"/>
<rect x="461.83" y="371.93" width="30.77" height="6.11" fill="#f8f9fc"/>
<rect x="339.97" y="377.74" width="30.77" height="6.11" fill="#fcfcfe"/>
<rect x="461.83" y="377.74" width="30.77" height="6.11" fill="#f8f9fc"/>
<rect x="461.83" y="383.55" width="30.77" height="6.11" fill="#f8f9fc"/>
<rect x="461.83" y="389.36" width="30.77" height="6.11" fill="#f8f9fc"/>
<rect x="309.50" y="395.18" width="30.77" height="6.11" fill="#f8f9fc"/>
<rect x="339.97" y="395.18" width="30.77" height="6.11" fill="#fcfcfe"/>
<rect x="370.43" y="395.18" width="30.77" height="6.11" fill="#f8f9fc"/>
<rect x="309.50" y="400.99" width="30.77" height="6.11" fill="#f8f9fc"/>
<rect x="339.97" y="400.99" width="30.77" height="6.11" fill="#fcfcfe"/>
<rect x="370.43" y="400.99" width="30.77" height="6.11" fill="#fcfcfe"/>
<text x="323.93" y="191.60" font-size="4.3" text-anchor="middle" fill="#2a2a2a" style="stroke:#2a2a2a;stroke-width:0.1px">0</text>
<text x="354.40" y="191.60" font-size="4.3" text-anchor="middle" fill="#2a2a2a" style="stroke:#2a2a2a;stroke-width:0.1px">8</text>
<text x="384.87" y="191.60" font-size="4.3" text-anchor="middle" fill="#2a2a2a" style="stroke:#2a2a2a;stroke-width:0.1px">0</text>
<text x="415.33" y="191.60" font-size="4.3" text-anchor="middle" fill="#2a2a2a" style="stroke:#2a2a2a;stroke-width:0.1px">71</text>
<text x="445.80" y="191.60" font-size="4.3" text-anchor="middle" fill="#2a2a2a" style="stroke:#2a2a2a;stroke-width:0.1px">0</text>
<text x="476.27" y="191.60" font-size="4.3" text-anchor="middle" fill="#2a2a2a" style="stroke:#2a2a2a;stroke-width:0.1px">0</text>
<text x="302.70" y="191.95" font-size="5.1" text-anchor="end" style="stroke-width:0.06px" textLength="28.32" lengthAdjust="spacingAndGlyphs">Clonotype 1</text>
<line x1="306.00" y1="190.15" x2="309.50" y2="190.15" stroke="#231f20" stroke-width="1.1"/>
<text x="323.93" y="197.35" font-size="4.3" text-anchor="middle" fill="#2a2a2a" style="stroke:#2a2a2a;stroke-width:0.1px">7</text>
<text x="354.40" y="197.35" font-size="4.3" text-anchor="middle" fill="#2a2a2a" style="stroke:#2a2a2a;stroke-width:0.1px">1</text>
<text x="384.87" y="197.35" font-size="4.3" text-anchor="middle" fill="#2a2a2a" style="stroke:#2a2a2a;stroke-width:0.1px">5</text>
<text x="415.33" y="197.35" font-size="4.3" text-anchor="middle" fill="#2a2a2a" style="stroke:#2a2a2a;stroke-width:0.1px">0</text>
<text x="445.80" y="197.35" font-size="4.3" text-anchor="middle" fill="#2a2a2a" style="stroke:#2a2a2a;stroke-width:0.1px">12</text>
<text x="476.27" y="197.35" font-size="4.3" text-anchor="middle" fill="#2a2a2a" style="stroke:#2a2a2a;stroke-width:0.1px">0</text>
<text x="302.70" y="197.70" font-size="5.1" text-anchor="end" style="stroke-width:0.06px" textLength="34.23" lengthAdjust="spacingAndGlyphs">Clonotype 736</text>
<line x1="306.00" y1="195.90" x2="309.50" y2="195.90" stroke="#231f20" stroke-width="1.1"/>
<text x="323.93" y="203.10" font-size="4.3" text-anchor="middle" fill="#2a2a2a" style="stroke:#2a2a2a;stroke-width:0.1px">3</text>
<text x="354.40" y="203.10" font-size="4.3" text-anchor="middle" fill="#2a2a2a" style="stroke:#2a2a2a;stroke-width:0.1px">1</text>
<text x="384.87" y="203.10" font-size="4.3" text-anchor="middle" fill="#2a2a2a" style="stroke:#2a2a2a;stroke-width:0.1px">3</text>
<text x="415.33" y="203.10" font-size="4.3" text-anchor="middle" fill="#2a2a2a" style="stroke:#2a2a2a;stroke-width:0.1px">0</text>
<text x="445.80" y="203.10" font-size="4.3" text-anchor="middle" fill="#2a2a2a" style="stroke:#2a2a2a;stroke-width:0.1px">4</text>
<text x="476.27" y="203.10" font-size="4.3" text-anchor="middle" fill="#2a2a2a" style="stroke:#2a2a2a;stroke-width:0.1px">0</text>
<text x="302.70" y="203.45" font-size="5.1" text-anchor="end" style="stroke-width:0.06px" textLength="34.23" lengthAdjust="spacingAndGlyphs">Clonotype 302</text>
<line x1="306.00" y1="201.65" x2="309.50" y2="201.65" stroke="#231f20" stroke-width="1.1"/>
<text x="323.93" y="208.85" font-size="4.3" text-anchor="middle" fill="#2a2a2a" style="stroke:#2a2a2a;stroke-width:0.1px">0</text>
<text x="354.40" y="208.85" font-size="4.3" text-anchor="middle" fill="#2a2a2a" style="stroke:#2a2a2a;stroke-width:0.1px">1</text>
<text x="384.87" y="208.85" font-size="4.3" text-anchor="middle" fill="#2a2a2a" style="stroke:#2a2a2a;stroke-width:0.1px">1</text>
<text x="415.33" y="208.85" font-size="4.3" text-anchor="middle" fill="#2a2a2a" style="stroke:#2a2a2a;stroke-width:0.1px">0</text>
<text x="445.80" y="208.85" font-size="4.3" text-anchor="middle" fill="#2a2a2a" style="stroke:#2a2a2a;stroke-width:0.1px">7</text>
<text x="476.27" y="208.85" font-size="4.3" text-anchor="middle" fill="#2a2a2a" style="stroke:#2a2a2a;stroke-width:0.1px">0</text>
<text x="302.70" y="209.20" font-size="5.1" text-anchor="end" style="stroke-width:0.06px" textLength="37.18" lengthAdjust="spacingAndGlyphs">Clonotype 6261</text>
<line x1="306.00" y1="207.40" x2="309.50" y2="207.40" stroke="#231f20" stroke-width="1.1"/>
<text x="323.93" y="214.60" font-size="4.3" text-anchor="middle" fill="#2a2a2a" style="stroke:#2a2a2a;stroke-width:0.1px">0</text>
<text x="354.40" y="214.60" font-size="4.3" text-anchor="middle" fill="#2a2a2a" style="stroke:#2a2a2a;stroke-width:0.1px">0</text>
<text x="384.87" y="214.60" font-size="4.3" text-anchor="middle" fill="#2a2a2a" style="stroke:#2a2a2a;stroke-width:0.1px">1</text>
<text x="415.33" y="214.60" font-size="4.3" text-anchor="middle" fill="#2a2a2a" style="stroke:#2a2a2a;stroke-width:0.1px">0</text>
<text x="445.80" y="214.60" font-size="4.3" text-anchor="middle" fill="#2a2a2a" style="stroke:#2a2a2a;stroke-width:0.1px">0</text>
<text x="476.27" y="214.60" font-size="4.3" text-anchor="middle" fill="#2a2a2a" style="stroke:#2a2a2a;stroke-width:0.1px">6</text>
<text x="302.70" y="214.95" font-size="5.1" text-anchor="end" style="stroke-width:0.06px" textLength="34.23" lengthAdjust="spacingAndGlyphs">Clonotype 318</text>
<line x1="306.00" y1="213.15" x2="309.50" y2="213.15" stroke="#231f20" stroke-width="1.1"/>
<text x="323.93" y="220.35" font-size="4.3" text-anchor="middle" fill="#2a2a2a" style="stroke:#2a2a2a;stroke-width:0.1px">0</text>
<text x="354.40" y="220.35" font-size="4.3" text-anchor="middle" fill="#2a2a2a" style="stroke:#2a2a2a;stroke-width:0.1px">2</text>
<text x="384.87" y="220.35" font-size="4.3" text-anchor="middle" fill="#2a2a2a" style="stroke:#2a2a2a;stroke-width:0.1px">5</text>
<text x="415.33" y="220.35" font-size="4.3" text-anchor="middle" fill="#2a2a2a" style="stroke:#2a2a2a;stroke-width:0.1px">0</text>
<text x="445.80" y="220.35" font-size="4.3" text-anchor="middle" fill="#2a2a2a" style="stroke:#2a2a2a;stroke-width:0.1px">0</text>
<text x="476.27" y="220.35" font-size="4.3" text-anchor="middle" fill="#2a2a2a" style="stroke:#2a2a2a;stroke-width:0.1px">5</text>
<text x="302.70" y="220.70" font-size="5.1" text-anchor="end" style="stroke-width:0.06px" textLength="34.23" lengthAdjust="spacingAndGlyphs">Clonotype 556</text>
<line x1="306.00" y1="218.90" x2="309.50" y2="218.90" stroke="#231f20" stroke-width="1.1"/>
<text x="323.93" y="226.10" font-size="4.3" text-anchor="middle" fill="#2a2a2a" style="stroke:#2a2a2a;stroke-width:0.1px">0</text>
<text x="354.40" y="226.10" font-size="4.3" text-anchor="middle" fill="#2a2a2a" style="stroke:#2a2a2a;stroke-width:0.1px">4</text>
<text x="384.87" y="226.10" font-size="4.3" text-anchor="middle" fill="#2a2a2a" style="stroke:#2a2a2a;stroke-width:0.1px">0</text>
<text x="415.33" y="226.10" font-size="4.3" text-anchor="middle" fill="#2a2a2a" style="stroke:#2a2a2a;stroke-width:0.1px">0</text>
<text x="445.80" y="226.10" font-size="4.3" text-anchor="middle" fill="#2a2a2a" style="stroke:#2a2a2a;stroke-width:0.1px">3</text>
<text x="476.27" y="226.10" font-size="4.3" text-anchor="middle" fill="#2a2a2a" style="stroke:#2a2a2a;stroke-width:0.1px">0</text>
<text x="302.70" y="226.45" font-size="5.1" text-anchor="end" style="stroke-width:0.06px" textLength="31.28" lengthAdjust="spacingAndGlyphs">Clonotype 52</text>
<line x1="306.00" y1="224.65" x2="309.50" y2="224.65" stroke="#231f20" stroke-width="1.1"/>
<text x="323.93" y="231.85" font-size="4.3" text-anchor="middle" fill="#2a2a2a" style="stroke:#2a2a2a;stroke-width:0.1px">4</text>
<text x="354.40" y="231.85" font-size="4.3" text-anchor="middle" fill="#2a2a2a" style="stroke:#2a2a2a;stroke-width:0.1px">0</text>
<text x="384.87" y="231.85" font-size="4.3" text-anchor="middle" fill="#2a2a2a" style="stroke:#2a2a2a;stroke-width:0.1px">1</text>
<text x="415.33" y="231.85" font-size="4.3" text-anchor="middle" fill="#2a2a2a" style="stroke:#2a2a2a;stroke-width:0.1px">0</text>
<text x="445.80" y="231.85" font-size="4.3" text-anchor="middle" fill="#2a2a2a" style="stroke:#2a2a2a;stroke-width:0.1px">0</text>
<text x="476.27" y="231.85" font-size="4.3" text-anchor="middle" fill="#2a2a2a" style="stroke:#2a2a2a;stroke-width:0.1px">0</text>
<text x="302.70" y="232.20" font-size="5.1" text-anchor="end" style="stroke-width:0.06px" textLength="34.23" lengthAdjust="spacingAndGlyphs">Clonotype 396</text>
<line x1="306.00" y1="230.40" x2="309.50" y2="230.40" stroke="#231f20" stroke-width="1.1"/>
<text x="323.93" y="237.60" font-size="4.3" text-anchor="middle" fill="#2a2a2a" style="stroke:#2a2a2a;stroke-width:0.1px">4</text>
<text x="354.40" y="237.60" font-size="4.3" text-anchor="middle" fill="#2a2a2a" style="stroke:#2a2a2a;stroke-width:0.1px">1</text>
<text x="384.87" y="237.60" font-size="4.3" text-anchor="middle" fill="#2a2a2a" style="stroke:#2a2a2a;stroke-width:0.1px">0</text>
<text x="415.33" y="237.60" font-size="4.3" text-anchor="middle" fill="#2a2a2a" style="stroke:#2a2a2a;stroke-width:0.1px">0</text>
<text x="445.80" y="237.60" font-size="4.3" text-anchor="middle" fill="#2a2a2a" style="stroke:#2a2a2a;stroke-width:0.1px">0</text>
<text x="476.27" y="237.60" font-size="4.3" text-anchor="middle" fill="#2a2a2a" style="stroke:#2a2a2a;stroke-width:0.1px">0</text>
<text x="302.70" y="237.95" font-size="5.1" text-anchor="end" style="stroke-width:0.06px" textLength="37.18" lengthAdjust="spacingAndGlyphs">Clonotype 2554</text>
<line x1="306.00" y1="236.15" x2="309.50" y2="236.15" stroke="#231f20" stroke-width="1.1"/>
<text x="323.93" y="243.35" font-size="4.3" text-anchor="middle" fill="#2a2a2a" style="stroke:#2a2a2a;stroke-width:0.1px">0</text>
<text x="354.40" y="243.35" font-size="4.3" text-anchor="middle" fill="#2a2a2a" style="stroke:#2a2a2a;stroke-width:0.1px">2</text>
<text x="384.87" y="243.35" font-size="4.3" text-anchor="middle" fill="#2a2a2a" style="stroke:#2a2a2a;stroke-width:0.1px">0</text>
<text x="415.33" y="243.35" font-size="4.3" text-anchor="middle" fill="#2a2a2a" style="stroke:#2a2a2a;stroke-width:0.1px">4</text>
<text x="445.80" y="243.35" font-size="4.3" text-anchor="middle" fill="#2a2a2a" style="stroke:#2a2a2a;stroke-width:0.1px">0</text>
<text x="476.27" y="243.35" font-size="4.3" text-anchor="middle" fill="#2a2a2a" style="stroke:#2a2a2a;stroke-width:0.1px">0</text>
<text x="302.70" y="243.70" font-size="5.1" text-anchor="end" style="stroke-width:0.06px" textLength="31.28" lengthAdjust="spacingAndGlyphs">Clonotype 89</text>
<line x1="306.00" y1="241.90" x2="309.50" y2="241.90" stroke="#231f20" stroke-width="1.1"/>
<text x="323.93" y="249.10" font-size="4.3" text-anchor="middle" fill="#2a2a2a" style="stroke:#2a2a2a;stroke-width:0.1px">2</text>
<text x="354.40" y="249.10" font-size="4.3" text-anchor="middle" fill="#2a2a2a" style="stroke:#2a2a2a;stroke-width:0.1px">0</text>
<text x="384.87" y="249.10" font-size="4.3" text-anchor="middle" fill="#2a2a2a" style="stroke:#2a2a2a;stroke-width:0.1px">0</text>
<text x="415.33" y="249.10" font-size="4.3" text-anchor="middle" fill="#2a2a2a" style="stroke:#2a2a2a;stroke-width:0.1px">0</text>
<text x="445.80" y="249.10" font-size="4.3" text-anchor="middle" fill="#2a2a2a" style="stroke:#2a2a2a;stroke-width:0.1px">0</text>
<text x="476.27" y="249.10" font-size="4.3" text-anchor="middle" fill="#2a2a2a" style="stroke:#2a2a2a;stroke-width:0.1px">0</text>
<text x="302.70" y="249.45" font-size="5.1" text-anchor="end" style="stroke-width:0.06px" textLength="34.23" lengthAdjust="spacingAndGlyphs">Clonotype 155</text>
<line x1="306.00" y1="247.65" x2="309.50" y2="247.65" stroke="#231f20" stroke-width="1.1"/>
<text x="323.93" y="254.85" font-size="4.3" text-anchor="middle" fill="#2a2a2a" style="stroke:#2a2a2a;stroke-width:0.1px">2</text>
<text x="354.40" y="254.85" font-size="4.3" text-anchor="middle" fill="#2a2a2a" style="stroke:#2a2a2a;stroke-width:0.1px">0</text>
<text x="384.87" y="254.85" font-size="4.3" text-anchor="middle" fill="#2a2a2a" style="stroke:#2a2a2a;stroke-width:0.1px">1</text>
<text x="415.33" y="254.85" font-size="4.3" text-anchor="middle" fill="#2a2a2a" style="stroke:#2a2a2a;stroke-width:0.1px">0</text>
<text x="445.80" y="254.85" font-size="4.3" text-anchor="middle" fill="#2a2a2a" style="stroke:#2a2a2a;stroke-width:0.1px">1</text>
<text x="476.27" y="254.85" font-size="4.3" text-anchor="middle" fill="#2a2a2a" style="stroke:#2a2a2a;stroke-width:0.1px">0</text>
<text x="302.70" y="255.20" font-size="5.1" text-anchor="end" style="stroke-width:0.06px" textLength="37.18" lengthAdjust="spacingAndGlyphs">Clonotype 1305</text>
<line x1="306.00" y1="253.40" x2="309.50" y2="253.40" stroke="#231f20" stroke-width="1.1"/>
<text x="323.93" y="260.60" font-size="4.3" text-anchor="middle" fill="#2a2a2a" style="stroke:#2a2a2a;stroke-width:0.1px">0</text>
<text x="354.40" y="260.60" font-size="4.3" text-anchor="middle" fill="#2a2a2a" style="stroke:#2a2a2a;stroke-width:0.1px">2</text>
<text x="384.87" y="260.60" font-size="4.3" text-anchor="middle" fill="#2a2a2a" style="stroke:#2a2a2a;stroke-width:0.1px">3</text>
<text x="415.33" y="260.60" font-size="4.3" text-anchor="middle" fill="#2a2a2a" style="stroke:#2a2a2a;stroke-width:0.1px">2</text>
<text x="445.80" y="260.60" font-size="4.3" text-anchor="middle" fill="#2a2a2a" style="stroke:#2a2a2a;stroke-width:0.1px">0</text>
<text x="476.27" y="260.60" font-size="4.3" text-anchor="middle" fill="#2a2a2a" style="stroke:#2a2a2a;stroke-width:0.1px">0</text>
<text x="302.70" y="260.95" font-size="5.1" text-anchor="end" style="stroke-width:0.06px" textLength="34.23" lengthAdjust="spacingAndGlyphs">Clonotype 556</text>
<line x1="306.00" y1="259.15" x2="309.50" y2="259.15" stroke="#231f20" stroke-width="1.1"/>
<text x="323.93" y="266.35" font-size="4.3" text-anchor="middle" fill="#2a2a2a" style="stroke:#2a2a2a;stroke-width:0.1px">0</text>
<text x="354.40" y="266.35" font-size="4.3" text-anchor="middle" fill="#2a2a2a" style="stroke:#2a2a2a;stroke-width:0.1px">1</text>
<text x="384.87" y="266.35" font-size="4.3" text-anchor="middle" fill="#2a2a2a" style="stroke:#2a2a2a;stroke-width:0.1px">4</text>
<text x="415.33" y="266.35" font-size="4.3" text-anchor="middle" fill="#2a2a2a" style="stroke:#2a2a2a;stroke-width:0.1px">0</text>
<text x="445.80" y="266.35" font-size="4.3" text-anchor="middle" fill="#2a2a2a" style="stroke:#2a2a2a;stroke-width:0.1px">0</text>
<text x="476.27" y="266.35" font-size="4.3" text-anchor="middle" fill="#2a2a2a" style="stroke:#2a2a2a;stroke-width:0.1px">0</text>
<text x="302.70" y="266.70" font-size="5.1" text-anchor="end" style="stroke-width:0.06px" textLength="34.23" lengthAdjust="spacingAndGlyphs">Clonotype 496</text>
<line x1="306.00" y1="264.90" x2="309.50" y2="264.90" stroke="#231f20" stroke-width="1.1"/>
<text x="323.93" y="272.10" font-size="4.3" text-anchor="middle" fill="#2a2a2a" style="stroke:#2a2a2a;stroke-width:0.1px">1</text>
<text x="354.40" y="272.10" font-size="4.3" text-anchor="middle" fill="#2a2a2a" style="stroke:#2a2a2a;stroke-width:0.1px">1</text>
<text x="384.87" y="272.10" font-size="4.3" text-anchor="middle" fill="#2a2a2a" style="stroke:#2a2a2a;stroke-width:0.1px">0</text>
<text x="415.33" y="272.10" font-size="4.3" text-anchor="middle" fill="#2a2a2a" style="stroke:#2a2a2a;stroke-width:0.1px">4</text>
<text x="445.80" y="272.10" font-size="4.3" text-anchor="middle" fill="#2a2a2a" style="stroke:#2a2a2a;stroke-width:0.1px">1</text>
<text x="476.27" y="272.10" font-size="4.3" text-anchor="middle" fill="#2a2a2a" style="stroke:#2a2a2a;stroke-width:0.1px">0</text>
<text x="302.70" y="272.45" font-size="5.1" text-anchor="end" style="stroke-width:0.06px" textLength="31.28" lengthAdjust="spacingAndGlyphs">Clonotype 37</text>
<line x1="306.00" y1="270.65" x2="309.50" y2="270.65" stroke="#231f20" stroke-width="1.1"/>
<text x="323.93" y="277.85" font-size="4.3" text-anchor="middle" fill="#2a2a2a" style="stroke:#2a2a2a;stroke-width:0.1px">0</text>
<text x="354.40" y="277.85" font-size="4.3" text-anchor="middle" fill="#2a2a2a" style="stroke:#2a2a2a;stroke-width:0.1px">1</text>
<text x="384.87" y="277.85" font-size="4.3" text-anchor="middle" fill="#2a2a2a" style="stroke:#2a2a2a;stroke-width:0.1px">0</text>
<text x="415.33" y="277.85" font-size="4.3" text-anchor="middle" fill="#2a2a2a" style="stroke:#2a2a2a;stroke-width:0.1px">4</text>
<text x="445.80" y="277.85" font-size="4.3" text-anchor="middle" fill="#2a2a2a" style="stroke:#2a2a2a;stroke-width:0.1px">0</text>
<text x="476.27" y="277.85" font-size="4.3" text-anchor="middle" fill="#2a2a2a" style="stroke:#2a2a2a;stroke-width:0.1px">1</text>
<text x="302.70" y="278.20" font-size="5.1" text-anchor="end" style="stroke-width:0.06px" textLength="34.23" lengthAdjust="spacingAndGlyphs">Clonotype 260</text>
<line x1="306.00" y1="276.40" x2="309.50" y2="276.40" stroke="#231f20" stroke-width="1.1"/>
<text x="323.93" y="283.60" font-size="4.3" text-anchor="middle" fill="#2a2a2a" style="stroke:#2a2a2a;stroke-width:0.1px">0</text>
<text x="354.40" y="283.60" font-size="4.3" text-anchor="middle" fill="#2a2a2a" style="stroke:#2a2a2a;stroke-width:0.1px">1</text>
<text x="384.87" y="283.60" font-size="4.3" text-anchor="middle" fill="#2a2a2a" style="stroke:#2a2a2a;stroke-width:0.1px">3</text>
<text x="415.33" y="283.60" font-size="4.3" text-anchor="middle" fill="#2a2a2a" style="stroke:#2a2a2a;stroke-width:0.1px">0</text>
<text x="445.80" y="283.60" font-size="4.3" text-anchor="middle" fill="#2a2a2a" style="stroke:#2a2a2a;stroke-width:0.1px">0</text>
<text x="476.27" y="283.60" font-size="4.3" text-anchor="middle" fill="#2a2a2a" style="stroke:#2a2a2a;stroke-width:0.1px">2</text>
<text x="302.70" y="283.95" font-size="5.1" text-anchor="end" style="stroke-width:0.06px" textLength="34.23" lengthAdjust="spacingAndGlyphs">Clonotype 315</text>
<line x1="306.00" y1="282.15" x2="309.50" y2="282.15" stroke="#231f20" stroke-width="1.1"/>
<text x="323.93" y="289.35" font-size="4.3" text-anchor="middle" fill="#2a2a2a" style="stroke:#2a2a2a;stroke-width:0.1px">0</text>
<text x="354.40" y="289.35" font-size="4.3" text-anchor="middle" fill="#2a2a2a" style="stroke:#2a2a2a;stroke-width:0.1px">1</text>
<text x="384.87" y="289.35" font-size="4.3" text-anchor="middle" fill="#2a2a2a" style="stroke:#2a2a2a;stroke-width:0.1px">3</text>
<text x="415.33" y="289.35" font-size="4.3" text-anchor="middle" fill="#2a2a2a" style="stroke:#2a2a2a;stroke-width:0.1px">0</text>
<text x="445.80" y="289.35" font-size="4.3" text-anchor="middle" fill="#2a2a2a" style="stroke:#2a2a2a;stroke-width:0.1px">0</text>
<text x="476.27" y="289.35" font-size="4.3" text-anchor="middle" fill="#2a2a2a" style="stroke:#2a2a2a;stroke-width:0.1px">0</text>
<text x="302.70" y="289.70" font-size="5.1" text-anchor="end" style="stroke-width:0.06px" textLength="34.23" lengthAdjust="spacingAndGlyphs">Clonotype 574</text>
<line x1="306.00" y1="287.90" x2="309.50" y2="287.90" stroke="#231f20" stroke-width="1.1"/>
<text x="323.93" y="295.10" font-size="4.3" text-anchor="middle" fill="#2a2a2a" style="stroke:#2a2a2a;stroke-width:0.1px">0</text>
<text x="354.40" y="295.10" font-size="4.3" text-anchor="middle" fill="#2a2a2a" style="stroke:#2a2a2a;stroke-width:0.1px">1</text>
<text x="384.87" y="295.10" font-size="4.3" text-anchor="middle" fill="#2a2a2a" style="stroke:#2a2a2a;stroke-width:0.1px">1</text>
<text x="415.33" y="295.10" font-size="4.3" text-anchor="middle" fill="#2a2a2a" style="stroke:#2a2a2a;stroke-width:0.1px">0</text>
<text x="445.80" y="295.10" font-size="4.3" text-anchor="middle" fill="#2a2a2a" style="stroke:#2a2a2a;stroke-width:0.1px">0</text>
<text x="476.27" y="295.10" font-size="4.3" text-anchor="middle" fill="#2a2a2a" style="stroke:#2a2a2a;stroke-width:0.1px">3</text>
<text x="302.70" y="295.45" font-size="5.1" text-anchor="end" style="stroke-width:0.06px" textLength="37.18" lengthAdjust="spacingAndGlyphs">Clonotype 8356</text>
<line x1="306.00" y1="293.65" x2="309.50" y2="293.65" stroke="#231f20" stroke-width="1.1"/>
<text x="323.93" y="300.85" font-size="4.3" text-anchor="middle" fill="#2a2a2a" style="stroke:#2a2a2a;stroke-width:0.1px">0</text>
<text x="354.40" y="300.85" font-size="4.3" text-anchor="middle" fill="#2a2a2a" style="stroke:#2a2a2a;stroke-width:0.1px">2</text>
<text x="384.87" y="300.85" font-size="4.3" text-anchor="middle" fill="#2a2a2a" style="stroke:#2a2a2a;stroke-width:0.1px">0</text>
<text x="415.33" y="300.85" font-size="4.3" text-anchor="middle" fill="#2a2a2a" style="stroke:#2a2a2a;stroke-width:0.1px">0</text>
<text x="445.80" y="300.85" font-size="4.3" text-anchor="middle" fill="#2a2a2a" style="stroke:#2a2a2a;stroke-width:0.1px">0</text>
<text x="476.27" y="300.85" font-size="4.3" text-anchor="middle" fill="#2a2a2a" style="stroke:#2a2a2a;stroke-width:0.1px">0</text>
<text x="302.70" y="301.20" font-size="5.1" text-anchor="end" style="stroke-width:0.06px" textLength="31.28" lengthAdjust="spacingAndGlyphs">Clonotype 25</text>
<line x1="306.00" y1="299.40" x2="309.50" y2="299.40" stroke="#231f20" stroke-width="1.1"/>
<text x="323.93" y="306.60" font-size="4.3" text-anchor="middle" fill="#2a2a2a" style="stroke:#2a2a2a;stroke-width:0.1px">1</text>
<text x="354.40" y="306.60" font-size="4.3" text-anchor="middle" fill="#2a2a2a" style="stroke:#2a2a2a;stroke-width:0.1px">2</text>
<text x="384.87" y="306.60" font-size="4.3" text-anchor="middle" fill="#2a2a2a" style="stroke:#2a2a2a;stroke-width:0.1px">0</text>
<text x="415.33" y="306.60" font-size="4.3" text-anchor="middle" fill="#2a2a2a" style="stroke:#2a2a2a;stroke-width:0.1px">0</text>
<text x="445.80" y="306.60" font-size="4.3" text-anchor="middle" fill="#2a2a2a" style="stroke:#2a2a2a;stroke-width:0.1px">0</text>
<text x="476.27" y="306.60" font-size="4.3" text-anchor="middle" fill="#2a2a2a" style="stroke:#2a2a2a;stroke-width:0.1px">0</text>
<text x="302.70" y="306.95" font-size="5.1" text-anchor="end" style="stroke-width:0.06px" textLength="34.23" lengthAdjust="spacingAndGlyphs">Clonotype 552</text>
<line x1="306.00" y1="305.15" x2="309.50" y2="305.15" stroke="#231f20" stroke-width="1.1"/>
<text x="323.93" y="312.35" font-size="4.3" text-anchor="middle" fill="#2a2a2a" style="stroke:#2a2a2a;stroke-width:0.1px">0</text>
<text x="354.40" y="312.35" font-size="4.3" text-anchor="middle" fill="#2a2a2a" style="stroke:#2a2a2a;stroke-width:0.1px">1</text>
<text x="384.87" y="312.35" font-size="4.3" text-anchor="middle" fill="#2a2a2a" style="stroke:#2a2a2a;stroke-width:0.1px">2</text>
<text x="415.33" y="312.35" font-size="4.3" text-anchor="middle" fill="#2a2a2a" style="stroke:#2a2a2a;stroke-width:0.1px">0</text>
<text x="445.80" y="312.35" font-size="4.3" text-anchor="middle" fill="#2a2a2a" style="stroke:#2a2a2a;stroke-width:0.1px">0</text>
<text x="476.27" y="312.35" font-size="4.3" text-anchor="middle" fill="#2a2a2a" style="stroke:#2a2a2a;stroke-width:0.1px">2</text>
<text x="302.70" y="312.70" font-size="5.1" text-anchor="end" style="stroke-width:0.06px" textLength="34.23" lengthAdjust="spacingAndGlyphs">Clonotype 554</text>
<line x1="306.00" y1="310.90" x2="309.50" y2="310.90" stroke="#231f20" stroke-width="1.1"/>
<text x="323.93" y="318.10" font-size="4.3" text-anchor="middle" fill="#2a2a2a" style="stroke:#2a2a2a;stroke-width:0.1px">0</text>
<text x="354.40" y="318.10" font-size="4.3" text-anchor="middle" fill="#2a2a2a" style="stroke:#2a2a2a;stroke-width:0.1px">1</text>
<text x="384.87" y="318.10" font-size="4.3" text-anchor="middle" fill="#2a2a2a" style="stroke:#2a2a2a;stroke-width:0.1px">2</text>
<text x="415.33" y="318.10" font-size="4.3" text-anchor="middle" fill="#2a2a2a" style="stroke:#2a2a2a;stroke-width:0.1px">0</text>
<text x="445.80" y="318.10" font-size="4.3" text-anchor="middle" fill="#2a2a2a" style="stroke:#2a2a2a;stroke-width:0.1px">0</text>
<text x="476.27" y="318.10" font-size="4.3" text-anchor="middle" fill="#2a2a2a" style="stroke:#2a2a2a;stroke-width:0.1px">0</text>
<text x="302.70" y="318.45" font-size="5.1" text-anchor="end" style="stroke-width:0.06px" textLength="34.23" lengthAdjust="spacingAndGlyphs">Clonotype 850</text>
<line x1="306.00" y1="316.65" x2="309.50" y2="316.65" stroke="#231f20" stroke-width="1.1"/>
<text x="323.93" y="323.85" font-size="4.3" text-anchor="middle" fill="#2a2a2a" style="stroke:#2a2a2a;stroke-width:0.1px">0</text>
<text x="354.40" y="323.85" font-size="4.3" text-anchor="middle" fill="#2a2a2a" style="stroke:#2a2a2a;stroke-width:0.1px">0</text>
<text x="384.87" y="323.85" font-size="4.3" text-anchor="middle" fill="#2a2a2a" style="stroke:#2a2a2a;stroke-width:0.1px">2</text>
<text x="415.33" y="323.85" font-size="4.3" text-anchor="middle" fill="#2a2a2a" style="stroke:#2a2a2a;stroke-width:0.1px">0</text>
<text x="445.80" y="323.85" font-size="4.3" text-anchor="middle" fill="#2a2a2a" style="stroke:#2a2a2a;stroke-width:0.1px">0</text>
<text x="476.27" y="323.85" font-size="4.3" text-anchor="middle" fill="#2a2a2a" style="stroke:#2a2a2a;stroke-width:0.1px">0</text>
<text x="302.70" y="324.20" font-size="5.1" text-anchor="end" style="stroke-width:0.06px" textLength="34.23" lengthAdjust="spacingAndGlyphs">Clonotype 613</text>
<line x1="306.00" y1="322.40" x2="309.50" y2="322.40" stroke="#231f20" stroke-width="1.1"/>
<text x="323.93" y="329.60" font-size="4.3" text-anchor="middle" fill="#2a2a2a" style="stroke:#2a2a2a;stroke-width:0.1px">0</text>
<text x="354.40" y="329.60" font-size="4.3" text-anchor="middle" fill="#2a2a2a" style="stroke:#2a2a2a;stroke-width:0.1px">2</text>
<text x="384.87" y="329.60" font-size="4.3" text-anchor="middle" fill="#2a2a2a" style="stroke:#2a2a2a;stroke-width:0.1px">0</text>
<text x="415.33" y="329.60" font-size="4.3" text-anchor="middle" fill="#2a2a2a" style="stroke:#2a2a2a;stroke-width:0.1px">0</text>
<text x="445.80" y="329.60" font-size="4.3" text-anchor="middle" fill="#2a2a2a" style="stroke:#2a2a2a;stroke-width:0.1px">0</text>
<text x="476.27" y="329.60" font-size="4.3" text-anchor="middle" fill="#2a2a2a" style="stroke:#2a2a2a;stroke-width:0.1px">0</text>
<text x="302.70" y="329.95" font-size="5.1" text-anchor="end" style="stroke-width:0.06px" textLength="28.32" lengthAdjust="spacingAndGlyphs">Clonotype 7</text>
<line x1="306.00" y1="328.15" x2="309.50" y2="328.15" stroke="#231f20" stroke-width="1.1"/>
<text x="323.93" y="335.35" font-size="4.3" text-anchor="middle" fill="#2a2a2a" style="stroke:#2a2a2a;stroke-width:0.1px">0</text>
<text x="354.40" y="335.35" font-size="4.3" text-anchor="middle" fill="#2a2a2a" style="stroke:#2a2a2a;stroke-width:0.1px">1</text>
<text x="384.87" y="335.35" font-size="4.3" text-anchor="middle" fill="#2a2a2a" style="stroke:#2a2a2a;stroke-width:0.1px">0</text>
<text x="415.33" y="335.35" font-size="4.3" text-anchor="middle" fill="#2a2a2a" style="stroke:#2a2a2a;stroke-width:0.1px">2</text>
<text x="445.80" y="335.35" font-size="4.3" text-anchor="middle" fill="#2a2a2a" style="stroke:#2a2a2a;stroke-width:0.1px">0</text>
<text x="476.27" y="335.35" font-size="4.3" text-anchor="middle" fill="#2a2a2a" style="stroke:#2a2a2a;stroke-width:0.1px">0</text>
<text x="302.70" y="335.70" font-size="5.1" text-anchor="end" style="stroke-width:0.06px" textLength="37.18" lengthAdjust="spacingAndGlyphs">Clonotype 1279</text>
<line x1="306.00" y1="333.90" x2="309.50" y2="333.90" stroke="#231f20" stroke-width="1.1"/>
<text x="323.93" y="341.10" font-size="4.3" text-anchor="middle" fill="#2a2a2a" style="stroke:#2a2a2a;stroke-width:0.1px">0</text>
<text x="354.40" y="341.10" font-size="4.3" text-anchor="middle" fill="#2a2a2a" style="stroke:#2a2a2a;stroke-width:0.1px">1</text>
<text x="384.87" y="341.10" font-size="4.3" text-anchor="middle" fill="#2a2a2a" style="stroke:#2a2a2a;stroke-width:0.1px">0</text>
<text x="415.33" y="341.10" font-size="4.3" text-anchor="middle" fill="#2a2a2a" style="stroke:#2a2a2a;stroke-width:0.1px">2</text>
<text x="445.80" y="341.10" font-size="4.3" text-anchor="middle" fill="#2a2a2a" style="stroke:#2a2a2a;stroke-width:0.1px">0</text>
<text x="476.27" y="341.10" font-size="4.3" text-anchor="middle" fill="#2a2a2a" style="stroke:#2a2a2a;stroke-width:0.1px">0</text>
<text x="302.70" y="341.45" font-size="5.1" text-anchor="end" style="stroke-width:0.06px" textLength="37.18" lengthAdjust="spacingAndGlyphs">Clonotype 2288</text>
<line x1="306.00" y1="339.65" x2="309.50" y2="339.65" stroke="#231f20" stroke-width="1.1"/>
<text x="323.93" y="346.85" font-size="4.3" text-anchor="middle" fill="#2a2a2a" style="stroke:#2a2a2a;stroke-width:0.1px">0</text>
<text x="354.40" y="346.85" font-size="4.3" text-anchor="middle" fill="#2a2a2a" style="stroke:#2a2a2a;stroke-width:0.1px">1</text>
<text x="384.87" y="346.85" font-size="4.3" text-anchor="middle" fill="#2a2a2a" style="stroke:#2a2a2a;stroke-width:0.1px">0</text>
<text x="415.33" y="346.85" font-size="4.3" text-anchor="middle" fill="#2a2a2a" style="stroke:#2a2a2a;stroke-width:0.1px">2</text>
<text x="445.80" y="346.85" font-size="4.3" text-anchor="middle" fill="#2a2a2a" style="stroke:#2a2a2a;stroke-width:0.1px">0</text>
<text x="476.27" y="346.85" font-size="4.3" text-anchor="middle" fill="#2a2a2a" style="stroke:#2a2a2a;stroke-width:0.1px">0</text>
<text x="302.70" y="347.20" font-size="5.1" text-anchor="end" style="stroke-width:0.06px" textLength="37.18" lengthAdjust="spacingAndGlyphs">Clonotype 8487</text>
<line x1="306.00" y1="345.40" x2="309.50" y2="345.40" stroke="#231f20" stroke-width="1.1"/>
<text x="323.93" y="352.60" font-size="4.3" text-anchor="middle" fill="#2a2a2a" style="stroke:#2a2a2a;stroke-width:0.1px">0</text>
<text x="354.40" y="352.60" font-size="4.3" text-anchor="middle" fill="#2a2a2a" style="stroke:#2a2a2a;stroke-width:0.1px">0</text>
<text x="384.87" y="352.60" font-size="4.3" text-anchor="middle" fill="#2a2a2a" style="stroke:#2a2a2a;stroke-width:0.1px">0</text>
<text x="415.33" y="352.60" font-size="4.3" text-anchor="middle" fill="#2a2a2a" style="stroke:#2a2a2a;stroke-width:0.1px">2</text>
<text x="445.80" y="352.60" font-size="4.3" text-anchor="middle" fill="#2a2a2a" style="stroke:#2a2a2a;stroke-width:0.1px">0</text>
<text x="476.27" y="352.60" font-size="4.3" text-anchor="middle" fill="#2a2a2a" style="stroke:#2a2a2a;stroke-width:0.1px">0</text>
<text x="302.70" y="352.95" font-size="5.1" text-anchor="end" style="stroke-width:0.06px" textLength="33.44" lengthAdjust="spacingAndGlyphs">Clonotype 111</text>
<line x1="306.00" y1="351.15" x2="309.50" y2="351.15" stroke="#231f20" stroke-width="1.1"/>
<text x="323.93" y="358.35" font-size="4.3" text-anchor="middle" fill="#2a2a2a" style="stroke:#2a2a2a;stroke-width:0.1px">0</text>
<text x="354.40" y="358.35" font-size="4.3" text-anchor="middle" fill="#2a2a2a" style="stroke:#2a2a2a;stroke-width:0.1px">0</text>
<text x="384.87" y="358.35" font-size="4.3" text-anchor="middle" fill="#2a2a2a" style="stroke:#2a2a2a;stroke-width:0.1px">1</text>
<text x="415.33" y="358.35" font-size="4.3" text-anchor="middle" fill="#2a2a2a" style="stroke:#2a2a2a;stroke-width:0.1px">0</text>
<text x="445.80" y="358.35" font-size="4.3" text-anchor="middle" fill="#2a2a2a" style="stroke:#2a2a2a;stroke-width:0.1px">2</text>
<text x="476.27" y="358.35" font-size="4.3" text-anchor="middle" fill="#2a2a2a" style="stroke:#2a2a2a;stroke-width:0.1px">0</text>
<text x="302.70" y="358.70" font-size="5.1" text-anchor="end" style="stroke-width:0.06px" textLength="37.18" lengthAdjust="spacingAndGlyphs">Clonotype 1266</text>
<line x1="306.00" y1="356.90" x2="309.50" y2="356.90" stroke="#231f20" stroke-width="1.1"/>
<text x="323.93" y="364.10" font-size="4.3" text-anchor="middle" fill="#2a2a2a" style="stroke:#2a2a2a;stroke-width:0.1px">0</text>
<text x="354.40" y="364.10" font-size="4.3" text-anchor="middle" fill="#2a2a2a" style="stroke:#2a2a2a;stroke-width:0.1px">0</text>
<text x="384.87" y="364.10" font-size="4.3" text-anchor="middle" fill="#2a2a2a" style="stroke:#2a2a2a;stroke-width:0.1px">0</text>
<text x="415.33" y="364.10" font-size="4.3" text-anchor="middle" fill="#2a2a2a" style="stroke:#2a2a2a;stroke-width:0.1px">0</text>
<text x="445.80" y="364.10" font-size="4.3" text-anchor="middle" fill="#2a2a2a" style="stroke:#2a2a2a;stroke-width:0.1px">2</text>
<text x="476.27" y="364.10" font-size="4.3" text-anchor="middle" fill="#2a2a2a" style="stroke:#2a2a2a;stroke-width:0.1px">0</text>
<text x="302.70" y="364.45" font-size="5.1" text-anchor="end" style="stroke-width:0.06px" textLength="34.23" lengthAdjust="spacingAndGlyphs">Clonotype 545</text>
<line x1="306.00" y1="362.65" x2="309.50" y2="362.65" stroke="#231f20" stroke-width="1.1"/>
<text x="323.93" y="369.85" font-size="4.3" text-anchor="middle" fill="#2a2a2a" style="stroke:#2a2a2a;stroke-width:0.1px">0</text>
<text x="354.40" y="369.85" font-size="4.3" text-anchor="middle" fill="#2a2a2a" style="stroke:#2a2a2a;stroke-width:0.1px">0</text>
<text x="384.87" y="369.85" font-size="4.3" text-anchor="middle" fill="#2a2a2a" style="stroke:#2a2a2a;stroke-width:0.1px">1</text>
<text x="415.33" y="369.85" font-size="4.3" text-anchor="middle" fill="#2a2a2a" style="stroke:#2a2a2a;stroke-width:0.1px">0</text>
<text x="445.80" y="369.85" font-size="4.3" text-anchor="middle" fill="#2a2a2a" style="stroke:#2a2a2a;stroke-width:0.1px">0</text>
<text x="476.27" y="369.85" font-size="4.3" text-anchor="middle" fill="#2a2a2a" style="stroke:#2a2a2a;stroke-width:0.1px">2</text>
<text x="302.70" y="370.20" font-size="5.1" text-anchor="end" style="stroke-width:0.06px" textLength="37.18" lengthAdjust="spacingAndGlyphs">Clonotype 5597</text>
<line x1="306.00" y1="368.40" x2="309.50" y2="368.40" stroke="#231f20" stroke-width="1.1"/>
<text x="323.93" y="375.60" font-size="4.3" text-anchor="middle" fill="#2a2a2a" style="stroke:#2a2a2a;stroke-width:0.1px">0</text>
<text x="354.40" y="375.60" font-size="4.3" text-anchor="middle" fill="#2a2a2a" style="stroke:#2a2a2a;stroke-width:0.1px">1</text>
<text x="384.87" y="375.60" font-size="4.3" text-anchor="middle" fill="#2a2a2a" style="stroke:#2a2a2a;stroke-width:0.1px">0</text>
<text x="415.33" y="375.60" font-size="4.3" text-anchor="middle" fill="#2a2a2a" style="stroke:#2a2a2a;stroke-width:0.1px">0</text>
<text x="445.80" y="375.60" font-size="4.3" text-anchor="middle" fill="#2a2a2a" style="stroke:#2a2a2a;stroke-width:0.1px">0</text>
<text x="476.27" y="375.60" font-size="4.3" text-anchor="middle" fill="#2a2a2a" style="stroke:#2a2a2a;stroke-width:0.1px">2</text>
<text x="302.70" y="375.95" font-size="5.1" text-anchor="end" style="stroke-width:0.06px" textLength="34.23" lengthAdjust="spacingAndGlyphs">Clonotype 252</text>
<line x1="306.00" y1="374.15" x2="309.50" y2="374.15" stroke="#231f20" stroke-width="1.1"/>
<text x="323.93" y="381.35" font-size="4.3" text-anchor="middle" fill="#2a2a2a" style="stroke:#2a2a2a;stroke-width:0.1px">0</text>
<text x="354.40" y="381.35" font-size="4.3" text-anchor="middle" fill="#2a2a2a" style="stroke:#2a2a2a;stroke-width:0.1px">1</text>
<text x="384.87" y="381.35" font-size="4.3" text-anchor="middle" fill="#2a2a2a" style="stroke:#2a2a2a;stroke-width:0.1px">0</text>
<text x="415.33" y="381.35" font-size="4.3" text-anchor="middle" fill="#2a2a2a" style="stroke:#2a2a2a;stroke-width:0.1px">0</text>
<text x="445.80" y="381.35" font-size="4.3" text-anchor="middle" fill="#2a2a2a" style="stroke:#2a2a2a;stroke-width:0.1px">0</text>
<text x="476.27" y="381.35" font-size="4.3" text-anchor="middle" fill="#2a2a2a" style="stroke:#2a2a2a;stroke-width:0.1px">2</text>
<text x="302.70" y="381.70" font-size="5.1" text-anchor="end" style="stroke-width:0.06px" textLength="37.18" lengthAdjust="spacingAndGlyphs">Clonotype 8972</text>
<line x1="306.00" y1="379.90" x2="309.50" y2="379.90" stroke="#231f20" stroke-width="1.1"/>
<text x="323.93" y="387.10" font-size="4.3" text-anchor="middle" fill="#2a2a2a" style="stroke:#2a2a2a;stroke-width:0.1px">0</text>
<text x="354.40" y="387.10" font-size="4.3" text-anchor="middle" fill="#2a2a2a" style="stroke:#2a2a2a;stroke-width:0.1px">0</text>
<text x="384.87" y="387.10" font-size="4.3" text-anchor="middle" fill="#2a2a2a" style="stroke:#2a2a2a;stroke-width:0.1px">0</text>
<text x="415.33" y="387.10" font-size="4.3" text-anchor="middle" fill="#2a2a2a" style="stroke:#2a2a2a;stroke-width:0.1px">0</text>
<text x="445.80" y="387.10" font-size="4.3" text-anchor="middle" fill="#2a2a2a" style="stroke:#2a2a2a;stroke-width:0.1px">0</text>
<text x="476.27" y="387.10" font-size="4.3" text-anchor="middle" fill="#2a2a2a" style="stroke:#2a2a2a;stroke-width:0.1px">2</text>
<text x="302.70" y="387.45" font-size="5.1" text-anchor="end" style="stroke-width:0.06px" textLength="34.23" lengthAdjust="spacingAndGlyphs">Clonotype 104</text>
<line x1="306.00" y1="385.65" x2="309.50" y2="385.65" stroke="#231f20" stroke-width="1.1"/>
<text x="323.93" y="392.85" font-size="4.3" text-anchor="middle" fill="#2a2a2a" style="stroke:#2a2a2a;stroke-width:0.1px">0</text>
<text x="354.40" y="392.85" font-size="4.3" text-anchor="middle" fill="#2a2a2a" style="stroke:#2a2a2a;stroke-width:0.1px">0</text>
<text x="384.87" y="392.85" font-size="4.3" text-anchor="middle" fill="#2a2a2a" style="stroke:#2a2a2a;stroke-width:0.1px">0</text>
<text x="415.33" y="392.85" font-size="4.3" text-anchor="middle" fill="#2a2a2a" style="stroke:#2a2a2a;stroke-width:0.1px">0</text>
<text x="445.80" y="392.85" font-size="4.3" text-anchor="middle" fill="#2a2a2a" style="stroke:#2a2a2a;stroke-width:0.1px">0</text>
<text x="476.27" y="392.85" font-size="4.3" text-anchor="middle" fill="#2a2a2a" style="stroke:#2a2a2a;stroke-width:0.1px">2</text>
<text x="302.70" y="393.20" font-size="5.1" text-anchor="end" style="stroke-width:0.06px" textLength="34.23" lengthAdjust="spacingAndGlyphs">Clonotype 166</text>
<line x1="306.00" y1="391.40" x2="309.50" y2="391.40" stroke="#231f20" stroke-width="1.1"/>
<text x="323.93" y="398.60" font-size="4.3" text-anchor="middle" fill="#2a2a2a" style="stroke:#2a2a2a;stroke-width:0.1px">2</text>
<text x="354.40" y="398.60" font-size="4.3" text-anchor="middle" fill="#2a2a2a" style="stroke:#2a2a2a;stroke-width:0.1px">1</text>
<text x="384.87" y="398.60" font-size="4.3" text-anchor="middle" fill="#2a2a2a" style="stroke:#2a2a2a;stroke-width:0.1px">2</text>
<text x="415.33" y="398.60" font-size="4.3" text-anchor="middle" fill="#2a2a2a" style="stroke:#2a2a2a;stroke-width:0.1px">0</text>
<text x="445.80" y="398.60" font-size="4.3" text-anchor="middle" fill="#2a2a2a" style="stroke:#2a2a2a;stroke-width:0.1px">0</text>
<text x="476.27" y="398.60" font-size="4.3" text-anchor="middle" fill="#2a2a2a" style="stroke:#2a2a2a;stroke-width:0.1px">0</text>
<text x="302.70" y="398.95" font-size="5.1" text-anchor="end" style="stroke-width:0.06px" textLength="34.23" lengthAdjust="spacingAndGlyphs">Clonotype 354</text>
<line x1="306.00" y1="397.15" x2="309.50" y2="397.15" stroke="#231f20" stroke-width="1.1"/>
<text x="323.93" y="404.35" font-size="4.3" text-anchor="middle" fill="#2a2a2a" style="stroke:#2a2a2a;stroke-width:0.1px">2</text>
<text x="354.40" y="404.35" font-size="4.3" text-anchor="middle" fill="#2a2a2a" style="stroke:#2a2a2a;stroke-width:0.1px">1</text>
<text x="384.87" y="404.35" font-size="4.3" text-anchor="middle" fill="#2a2a2a" style="stroke:#2a2a2a;stroke-width:0.1px">1</text>
<text x="415.33" y="404.35" font-size="4.3" text-anchor="middle" fill="#2a2a2a" style="stroke:#2a2a2a;stroke-width:0.1px">0</text>
<text x="445.80" y="404.35" font-size="4.3" text-anchor="middle" fill="#2a2a2a" style="stroke:#2a2a2a;stroke-width:0.1px">0</text>
<text x="476.27" y="404.35" font-size="4.3" text-anchor="middle" fill="#2a2a2a" style="stroke:#2a2a2a;stroke-width:0.1px">0</text>
<text x="302.70" y="404.70" font-size="5.1" text-anchor="end" style="stroke-width:0.06px" textLength="34.23" lengthAdjust="spacingAndGlyphs">Clonotype 536</text>
<line x1="306.00" y1="402.90" x2="309.50" y2="402.90" stroke="#231f20" stroke-width="1.1"/>
<rect x="309.5" y="186.9" width="182.80" height="219.10" fill="none" stroke="#231f20" stroke-width="1.5"/>
<line x1="323.93" y1="406.00" x2="323.93" y2="409.40" stroke="#231f20" stroke-width="1"/>
<text x="323.93" y="418.40" font-size="8.4" text-anchor="middle">3</text>
<line x1="354.40" y1="406.00" x2="354.40" y2="409.40" stroke="#231f20" stroke-width="1"/>
<text x="354.40" y="418.40" font-size="8.4" text-anchor="middle">4</text>
<line x1="384.87" y1="406.00" x2="384.87" y2="409.40" stroke="#231f20" stroke-width="1"/>
<text x="384.87" y="418.40" font-size="8.4" text-anchor="middle">3</text>
<line x1="415.33" y1="406.00" x2="415.33" y2="409.40" stroke="#231f20" stroke-width="1"/>
<text x="415.33" y="418.40" font-size="8.4" text-anchor="middle">4</text>
<line x1="445.80" y1="406.00" x2="445.80" y2="409.40" stroke="#231f20" stroke-width="1"/>
<text x="445.80" y="418.40" font-size="8.4" text-anchor="middle">3</text>
<line x1="476.27" y1="406.00" x2="476.27" y2="409.40" stroke="#231f20" stroke-width="1"/>
<text x="476.27" y="418.40" font-size="8.4" text-anchor="middle">4</text>
<text x="305.50" y="418.60" font-size="8.4" text-anchor="end" textLength="17.30" lengthAdjust="spacingAndGlyphs">Arm:</text>
<line x1="320.80" y1="421.90" x2="359.20" y2="421.90" stroke="#231f20" stroke-width="1.4"/>
<text x="333.45" y="431.0" font-size="8.4" textLength="4.6" lengthAdjust="spacingAndGlyphs">T</text>
<text x="338.05" y="433.3" font-size="4.4" textLength="8.5" lengthAdjust="spacingAndGlyphs">EM3</text>
<line x1="381.30" y1="421.90" x2="420.20" y2="421.90" stroke="#231f20" stroke-width="1.4"/>
<text x="390.50" y="431.0" font-size="8.4" textLength="4.6" lengthAdjust="spacingAndGlyphs">T</text>
<text x="395.10" y="433.3" font-size="4.4" textLength="15.9" lengthAdjust="spacingAndGlyphs">hctx-ex</text>
<line x1="441.30" y1="421.90" x2="479.30" y2="421.90" stroke="#231f20" stroke-width="1.4"/>
<text x="453.20" y="431.0" font-size="8.4" textLength="4.6" lengthAdjust="spacingAndGlyphs">T</text>
<text x="457.80" y="433.3" font-size="4.4" textLength="9.6" lengthAdjust="spacingAndGlyphs">hctx</text>
<defs><linearGradient id="gC" x1="0" y1="1" x2="0" y2="0"><stop offset="0" stop-color="rgb(255, 255, 255)"/><stop offset="0.28" stop-color="rgb(186, 192, 229)"/><stop offset="0.56" stop-color="rgb(116, 130, 197)"/><stop offset="0.845" stop-color="rgb(76, 96, 175)"/><stop offset="1" stop-color="rgb(57, 83, 164)"/></linearGradient></defs>
<rect x="497.3" y="187.2" width="7.60" height="218.20" fill="url(#gC)" stroke="#231f20" stroke-width="1"/>
<text x="507.30" y="406.10" font-size="5.6" style="stroke-width:0.06px">0</text>
<line x1="497.30" y1="343.80" x2="498.50" y2="343.80" stroke="#231f20" stroke-width="1"/>
<line x1="503.70" y1="343.80" x2="504.90" y2="343.80" stroke="#231f20" stroke-width="1"/>
<text x="507.30" y="345.80" font-size="5.6" style="stroke-width:0.06px">20</text>
<line x1="497.30" y1="281.50" x2="498.50" y2="281.50" stroke="#231f20" stroke-width="1"/>
<line x1="503.70" y1="281.50" x2="504.90" y2="281.50" stroke="#231f20" stroke-width="1"/>
<text x="507.30" y="283.50" font-size="5.6" style="stroke-width:0.06px">40</text>
<line x1="497.30" y1="220.60" x2="498.50" y2="220.60" stroke="#231f20" stroke-width="1"/>
<line x1="503.70" y1="220.60" x2="504.90" y2="220.60" stroke="#231f20" stroke-width="1"/>
<text x="507.30" y="222.60" font-size="5.6" style="stroke-width:0.06px">60</text>
<text x="91.3" y="464.3" font-size="10.4" textLength="103.3" lengthAdjust="spacingAndGlyphs">T<tspan font-size="7.8" dy="2.2">hctx-ex</tspan><tspan dy="-2.2"> select transcripts</tspan></text>
<rect x="56.20" y="470.00" width="58.13" height="11.75" fill="#9394cf"/>
<rect x="113.93" y="470.00" width="58.13" height="11.75" fill="#8586c9"/>
<rect x="171.67" y="470.00" width="58.13" height="11.75" fill="#9798d0"/>
<rect x="56.20" y="481.35" width="58.13" height="11.75" fill="#7779c2"/>
<rect x="113.93" y="481.35" width="58.13" height="11.75" fill="#bcbce1"/>
<rect x="171.67" y="481.35" width="58.13" height="11.75" fill="#c9c8e6"/>
<rect x="56.20" y="492.71" width="58.13" height="11.75" fill="#545daf"/>
<rect x="113.93" y="492.71" width="58.13" height="11.75" fill="#7074bf"/>
<rect x="171.67" y="492.71" width="58.13" height="11.75" fill="#7b7dc4"/>
<rect x="56.20" y="504.06" width="58.13" height="11.75" fill="#4d59ac"/>
<rect x="113.93" y="504.06" width="58.13" height="11.75" fill="#5b62b3"/>
<rect x="171.67" y="504.06" width="58.13" height="11.75" fill="#696ebb"/>
<rect x="56.20" y="515.41" width="58.13" height="11.75" fill="#7d7ec5"/>
<rect x="113.93" y="515.41" width="58.13" height="11.75" fill="#8183c7"/>
<rect x="171.67" y="515.41" width="58.13" height="11.75" fill="#6c70bc"/>
<rect x="56.20" y="526.76" width="58.13" height="11.75" fill="#deddf0"/>
<rect x="113.93" y="526.76" width="58.13" height="11.75" fill="#dedef0"/>
<rect x="171.67" y="526.76" width="58.13" height="11.75" fill="#c9c8e6"/>
<rect x="56.20" y="538.12" width="58.13" height="11.75" fill="#6c70bc"/>
<rect x="113.93" y="538.12" width="58.13" height="11.75" fill="#adadda"/>
<rect x="171.67" y="538.12" width="58.13" height="11.75" fill="#9c9cd3"/>
<rect x="56.20" y="549.47" width="58.13" height="11.75" fill="#ecebf6"/>
<rect x="113.93" y="549.47" width="58.13" height="11.75" fill="#f6f6fb"/>
<rect x="171.67" y="549.47" width="58.13" height="11.75" fill="#ffffff"/>
<rect x="56.20" y="560.82" width="58.13" height="11.75" fill="#555eb0"/>
<rect x="113.93" y="560.82" width="58.13" height="11.75" fill="#a2a3d5"/>
<rect x="171.67" y="560.82" width="58.13" height="11.75" fill="#676cba"/>
<rect x="56.20" y="572.18" width="58.13" height="11.75" fill="#acacda"/>
<rect x="113.93" y="572.18" width="58.13" height="11.75" fill="#cfcee9"/>
<rect x="171.67" y="572.18" width="58.13" height="11.75" fill="#696ebb"/>
<rect x="56.20" y="583.53" width="58.13" height="11.75" fill="#e4e3f3"/>
<rect x="113.93" y="583.53" width="58.13" height="11.75" fill="#dedef0"/>
<rect x="171.67" y="583.53" width="58.13" height="11.75" fill="#b3b3dd"/>
<rect x="56.20" y="594.88" width="58.13" height="11.75" fill="#b2b2dc"/>
<rect x="113.93" y="594.88" width="58.13" height="11.75" fill="#8183c7"/>
<rect x="171.67" y="594.88" width="58.13" height="11.75" fill="#6268b7"/>
<rect x="56.20" y="606.24" width="58.13" height="11.75" fill="#4556aa"/>
<rect x="113.93" y="606.24" width="58.13" height="11.75" fill="#4255a9"/>
<rect x="171.67" y="606.24" width="58.13" height="11.75" fill="#3a52a6"/>
<rect x="56.20" y="617.59" width="58.13" height="11.75" fill="#5d64b4"/>
<rect x="113.93" y="617.59" width="58.13" height="11.75" fill="#4757aa"/>
<rect x="171.67" y="617.59" width="58.13" height="11.75" fill="#4054a8"/>
<rect x="56.20" y="628.94" width="58.13" height="11.75" fill="#e9e8f5"/>
<rect x="113.93" y="628.94" width="58.13" height="11.75" fill="#f9f8fc"/>
<rect x="171.67" y="628.94" width="58.13" height="11.75" fill="#ffffff"/>
<rect x="56.20" y="640.29" width="58.13" height="11.75" fill="#f4f3fa"/>
<rect x="113.93" y="640.29" width="58.13" height="11.75" fill="#e9e8f5"/>
<rect x="171.67" y="640.29" width="58.13" height="11.75" fill="#f5f5fa"/>
<rect x="56.20" y="651.65" width="58.13" height="11.75" fill="#f8f7fc"/>
<rect x="113.93" y="651.65" width="58.13" height="11.75" fill="#ebebf6"/>
<rect x="171.67" y="651.65" width="58.13" height="11.75" fill="#ffffff"/>
<text x="84.27" y="478.58" font-size="8.2" text-anchor="middle" textLength="14.68" lengthAdjust="spacingAndGlyphs">42.0</text>
<text x="142.00" y="478.58" font-size="8.2" text-anchor="middle" textLength="14.68" lengthAdjust="spacingAndGlyphs">46.2</text>
<text x="199.73" y="478.58" font-size="8.2" text-anchor="middle" textLength="14.68" lengthAdjust="spacingAndGlyphs">40.8</text>
<text x="50.90" y="478.58" font-size="8.2" text-anchor="end" textLength="14.99" lengthAdjust="spacingAndGlyphs">PD1</text>
<line x1="52.80" y1="475.68" x2="56.20" y2="475.68" stroke="#231f20" stroke-width="1.1"/>
<text x="84.27" y="489.93" font-size="8.2" text-anchor="middle" textLength="14.68" lengthAdjust="spacingAndGlyphs">50.4</text>
<text x="142.00" y="489.93" font-size="8.2" text-anchor="middle" textLength="14.68" lengthAdjust="spacingAndGlyphs">29.7</text>
<text x="199.73" y="489.93" font-size="8.2" text-anchor="middle" textLength="14.68" lengthAdjust="spacingAndGlyphs">25.4</text>
<text x="50.90" y="489.93" font-size="8.2" text-anchor="end" textLength="19.71" lengthAdjust="spacingAndGlyphs">LAG3</text>
<line x1="52.80" y1="487.03" x2="56.20" y2="487.03" stroke="#231f20" stroke-width="1.1"/>
<text x="84.27" y="501.28" font-size="8.2" text-anchor="middle" fill="#ffffff" style="stroke:#ffffff" textLength="14.68" lengthAdjust="spacingAndGlyphs">69.7</text>
<text x="142.00" y="501.28" font-size="8.2" text-anchor="middle" textLength="14.68" lengthAdjust="spacingAndGlyphs">53.8</text>
<text x="199.73" y="501.28" font-size="8.2" text-anchor="middle" textLength="14.68" lengthAdjust="spacingAndGlyphs">49.3</text>
<text x="50.90" y="501.28" font-size="8.2" text-anchor="end" textLength="23.99" lengthAdjust="spacingAndGlyphs">CTLA4</text>
<line x1="52.80" y1="498.38" x2="56.20" y2="498.38" stroke="#231f20" stroke-width="1.1"/>
<text x="84.27" y="512.64" font-size="8.2" text-anchor="middle" fill="#ffffff" style="stroke:#ffffff" textLength="14.68" lengthAdjust="spacingAndGlyphs">75.6</text>
<text x="142.00" y="512.64" font-size="8.2" text-anchor="middle" fill="#ffffff" style="stroke:#ffffff" textLength="14.68" lengthAdjust="spacingAndGlyphs">65.9</text>
<text x="199.73" y="512.64" font-size="8.2" text-anchor="middle" textLength="14.68" lengthAdjust="spacingAndGlyphs">57.7</text>
<text x="50.90" y="512.64" font-size="8.2" text-anchor="end" textLength="19.69" lengthAdjust="spacingAndGlyphs">TIGIT</text>
<line x1="52.80" y1="509.74" x2="56.20" y2="509.74" stroke="#231f20" stroke-width="1.1"/>
<text x="84.27" y="523.99" font-size="8.2" text-anchor="middle" textLength="14.68" lengthAdjust="spacingAndGlyphs">48.7</text>
<text x="142.00" y="523.99" font-size="8.2" text-anchor="middle" textLength="14.68" lengthAdjust="spacingAndGlyphs">47.3</text>
<text x="199.73" y="523.99" font-size="8.2" text-anchor="middle" textLength="14.68" lengthAdjust="spacingAndGlyphs">56.3</text>
<text x="50.90" y="523.99" font-size="8.2" text-anchor="end" textLength="16.27" lengthAdjust="spacingAndGlyphs">IFNγ</text>
<line x1="52.80" y1="521.09" x2="56.20" y2="521.09" stroke="#231f20" stroke-width="1.1"/>
<text x="84.27" y="535.34" font-size="8.2" text-anchor="middle" textLength="14.68" lengthAdjust="spacingAndGlyphs">16.8</text>
<text x="142.00" y="535.34" font-size="8.2" text-anchor="middle" textLength="14.68" lengthAdjust="spacingAndGlyphs">16.5</text>
<text x="199.73" y="535.34" font-size="8.2" text-anchor="middle" textLength="14.68" lengthAdjust="spacingAndGlyphs">25.4</text>
<text x="50.90" y="535.34" font-size="8.2" text-anchor="end" textLength="14.98" lengthAdjust="spacingAndGlyphs">TNF</text>
<line x1="52.80" y1="532.44" x2="56.20" y2="532.44" stroke="#231f20" stroke-width="1.1"/>
<text x="84.27" y="546.69" font-size="8.2" text-anchor="middle" textLength="14.68" lengthAdjust="spacingAndGlyphs">56.3</text>
<text x="142.00" y="546.69" font-size="8.2" text-anchor="middle" textLength="14.68" lengthAdjust="spacingAndGlyphs">34.1</text>
<text x="199.73" y="546.69" font-size="8.2" text-anchor="middle" textLength="14.68" lengthAdjust="spacingAndGlyphs">39.4</text>
<text x="50.90" y="546.69" font-size="8.2" text-anchor="end" textLength="15.00" lengthAdjust="spacingAndGlyphs">IL10</text>
<line x1="52.80" y1="543.79" x2="56.20" y2="543.79" stroke="#231f20" stroke-width="1.1"/>
<text x="84.27" y="558.05" font-size="8.2" text-anchor="middle" textLength="14.68" lengthAdjust="spacingAndGlyphs">10.9</text>
<text x="142.00" y="558.05" font-size="8.2" text-anchor="middle" textLength="10.49" lengthAdjust="spacingAndGlyphs">6.6</text>
<text x="199.73" y="558.05" font-size="8.2" text-anchor="middle" textLength="10.49" lengthAdjust="spacingAndGlyphs">2.8</text>
<text x="50.90" y="558.05" font-size="8.2" text-anchor="end" textLength="15.00" lengthAdjust="spacingAndGlyphs">IL21</text>
<line x1="52.80" y1="555.15" x2="56.20" y2="555.15" stroke="#231f20" stroke-width="1.1"/>
<text x="84.27" y="569.40" font-size="8.2" text-anchor="middle" fill="#ffffff" style="stroke:#ffffff" textLength="14.68" lengthAdjust="spacingAndGlyphs">68.9</text>
<text x="142.00" y="569.40" font-size="8.2" text-anchor="middle" textLength="14.68" lengthAdjust="spacingAndGlyphs">37.4</text>
<text x="199.73" y="569.40" font-size="8.2" text-anchor="middle" textLength="14.68" lengthAdjust="spacingAndGlyphs">59.2</text>
<text x="50.90" y="569.40" font-size="8.2" text-anchor="end" textLength="18.84" lengthAdjust="spacingAndGlyphs">ICOS</text>
<line x1="52.80" y1="566.50" x2="56.20" y2="566.50" stroke="#231f20" stroke-width="1.1"/>
<text x="84.27" y="580.75" font-size="8.2" text-anchor="middle" textLength="14.68" lengthAdjust="spacingAndGlyphs">34.5</text>
<text x="142.00" y="580.75" font-size="8.2" text-anchor="middle" textLength="14.68" lengthAdjust="spacingAndGlyphs">23.1</text>
<text x="199.73" y="580.75" font-size="8.2" text-anchor="middle" textLength="14.68" lengthAdjust="spacingAndGlyphs">57.7</text>
<text x="50.90" y="580.75" font-size="8.2" text-anchor="end" textLength="23.99" lengthAdjust="spacingAndGlyphs">CD40L</text>
<line x1="52.80" y1="577.85" x2="56.20" y2="577.85" stroke="#231f20" stroke-width="1.1"/>
<text x="84.27" y="592.11" font-size="8.2" text-anchor="middle" textLength="14.68" lengthAdjust="spacingAndGlyphs">14.3</text>
<text x="142.00" y="592.11" font-size="8.2" text-anchor="middle" textLength="14.68" lengthAdjust="spacingAndGlyphs">16.5</text>
<text x="199.73" y="592.11" font-size="8.2" text-anchor="middle" textLength="14.68" lengthAdjust="spacingAndGlyphs">32.4</text>
<text x="50.90" y="592.11" font-size="8.2" text-anchor="end" textLength="26.13" lengthAdjust="spacingAndGlyphs">CXCR3</text>
<line x1="52.80" y1="589.21" x2="56.20" y2="589.21" stroke="#231f20" stroke-width="1.1"/>
<text x="84.27" y="603.46" font-size="8.2" text-anchor="middle" textLength="14.68" lengthAdjust="spacingAndGlyphs">32.8</text>
<text x="142.00" y="603.46" font-size="8.2" text-anchor="middle" textLength="14.68" lengthAdjust="spacingAndGlyphs">47.3</text>
<text x="199.73" y="603.46" font-size="8.2" text-anchor="middle" textLength="14.68" lengthAdjust="spacingAndGlyphs">62.0</text>
<text x="50.90" y="603.46" font-size="8.2" text-anchor="end" textLength="19.71" lengthAdjust="spacingAndGlyphs">CCL4</text>
<line x1="52.80" y1="600.56" x2="56.20" y2="600.56" stroke="#231f20" stroke-width="1.1"/>
<text x="84.27" y="614.81" font-size="8.2" text-anchor="middle" fill="#ffffff" style="stroke:#ffffff" textLength="14.68" lengthAdjust="spacingAndGlyphs">84.9</text>
<text x="142.00" y="614.81" font-size="8.2" text-anchor="middle" fill="#ffffff" style="stroke:#ffffff" textLength="14.68" lengthAdjust="spacingAndGlyphs">89.0</text>
<text x="199.73" y="614.81" font-size="8.2" text-anchor="middle" fill="#ffffff" style="stroke:#ffffff" textLength="14.68" lengthAdjust="spacingAndGlyphs">98.6</text>
<text x="50.90" y="614.81" font-size="8.2" text-anchor="end" textLength="19.71" lengthAdjust="spacingAndGlyphs">CCL5</text>
<line x1="52.80" y1="611.91" x2="56.20" y2="611.91" stroke="#231f20" stroke-width="1.1"/>
<text x="84.27" y="626.16" font-size="8.2" text-anchor="middle" fill="#ffffff" style="stroke:#ffffff" textLength="14.68" lengthAdjust="spacingAndGlyphs">64.7</text>
<text x="142.00" y="626.16" font-size="8.2" text-anchor="middle" fill="#ffffff" style="stroke:#ffffff" textLength="14.68" lengthAdjust="spacingAndGlyphs">82.4</text>
<text x="199.73" y="626.16" font-size="8.2" text-anchor="middle" fill="#ffffff" style="stroke:#ffffff" textLength="14.68" lengthAdjust="spacingAndGlyphs">91.5</text>
<text x="50.90" y="626.16" font-size="8.2" text-anchor="end" textLength="20.99" lengthAdjust="spacingAndGlyphs">NKG7</text>
<line x1="52.80" y1="623.26" x2="56.20" y2="623.26" stroke="#231f20" stroke-width="1.1"/>
<text x="84.27" y="637.52" font-size="8.2" text-anchor="middle" textLength="14.68" lengthAdjust="spacingAndGlyphs">12.1</text>
<text x="142.00" y="637.52" font-size="8.2" text-anchor="middle" textLength="10.49" lengthAdjust="spacingAndGlyphs">5.5</text>
<text x="199.73" y="637.52" font-size="8.2" text-anchor="middle" textLength="10.49" lengthAdjust="spacingAndGlyphs">2.8</text>
<text x="50.90" y="637.52" font-size="8.2" text-anchor="end" textLength="14.14" lengthAdjust="spacingAndGlyphs">Prf1</text>
<line x1="52.80" y1="634.62" x2="56.20" y2="634.62" stroke="#231f20" stroke-width="1.1"/>
<text x="84.27" y="648.87" font-size="8.2" text-anchor="middle" textLength="10.49" lengthAdjust="spacingAndGlyphs">7.6</text>
<text x="142.00" y="648.87" font-size="8.2" text-anchor="middle" textLength="14.68" lengthAdjust="spacingAndGlyphs">12.1</text>
<text x="199.73" y="648.87" font-size="8.2" text-anchor="middle" textLength="10.49" lengthAdjust="spacingAndGlyphs">7.0</text>
<text x="50.90" y="648.87" font-size="8.2" text-anchor="end" textLength="21.41" lengthAdjust="spacingAndGlyphs">GzmB</text>
<line x1="52.80" y1="645.97" x2="56.20" y2="645.97" stroke="#231f20" stroke-width="1.1"/>
<text x="84.27" y="660.22" font-size="8.2" text-anchor="middle" textLength="10.49" lengthAdjust="spacingAndGlyphs">5.9</text>
<text x="142.00" y="660.22" font-size="8.2" text-anchor="middle" textLength="14.12" lengthAdjust="spacingAndGlyphs">11.0</text>
<text x="199.73" y="660.22" font-size="8.2" text-anchor="middle" textLength="10.49" lengthAdjust="spacingAndGlyphs">2.8</text>
<text x="50.90" y="660.22" font-size="8.2" text-anchor="end" textLength="26.56" lengthAdjust="spacingAndGlyphs">SlamF7</text>
<line x1="52.80" y1="657.32" x2="56.20" y2="657.32" stroke="#231f20" stroke-width="1.1"/>
<rect x="56.2" y="470.0" width="173.20" height="193.00" fill="none" stroke="#231f20" stroke-width="1.3"/>
<line x1="85.07" y1="663.00" x2="85.07" y2="666.50" stroke="#231f20" stroke-width="1"/>
<line x1="142.80" y1="663.00" x2="142.80" y2="666.50" stroke="#231f20" stroke-width="1"/>
<line x1="200.53" y1="663.00" x2="200.53" y2="666.50" stroke="#231f20" stroke-width="1"/>
<text x="85.00" y="675.30" font-size="8.2" text-anchor="middle" textLength="52.50" lengthAdjust="spacingAndGlyphs">Arm 3: All cells</text>
<text x="143.00" y="674.80" font-size="8.2" text-anchor="middle" textLength="22.50" lengthAdjust="spacingAndGlyphs">Arm 4:</text>
<text x="143.00" y="684.50" font-size="8.2" text-anchor="middle" textLength="51.30" lengthAdjust="spacingAndGlyphs">Non-dominant</text>
<text x="143.00" y="694.20" font-size="8.2" text-anchor="middle" textLength="35.50" lengthAdjust="spacingAndGlyphs">clonotype</text>
<text x="200.30" y="674.80" font-size="8.2" text-anchor="middle" textLength="22.50" lengthAdjust="spacingAndGlyphs">Arm 4:</text>
<text x="200.30" y="684.50" font-size="8.2" text-anchor="middle" textLength="34.50" lengthAdjust="spacingAndGlyphs">Dominant</text>
<text x="200.30" y="694.20" font-size="8.2" text-anchor="middle" textLength="35.50" lengthAdjust="spacingAndGlyphs">clonotype</text>
<defs><linearGradient id="gD" x1="0" y1="1" x2="0" y2="0"><stop offset="0" stop-color="rgb(255, 255, 255)"/><stop offset="0.25" stop-color="rgb(198, 197, 229)"/><stop offset="0.5" stop-color="rgb(118, 120, 194)"/><stop offset="0.72" stop-color="rgb(80, 90, 173)"/><stop offset="1" stop-color="rgb(58, 82, 166)"/></linearGradient></defs>
<rect x="238.6" y="469.2" width="10.4" height="194.5" fill="url(#gD)" stroke="#231f20" stroke-width="1.1"/>
<line x1="247.20" y1="629.20" x2="249.00" y2="629.20" stroke="#231f20" stroke-width="1"/>
<line x1="238.60" y1="629.20" x2="240.40" y2="629.20" stroke="#231f20" stroke-width="1"/>
<text x="252.00" y="632.00" font-size="7.8">20</text>
<line x1="247.20" y1="588.60" x2="249.00" y2="588.60" stroke="#231f20" stroke-width="1"/>
<line x1="238.60" y1="588.60" x2="240.40" y2="588.60" stroke="#231f20" stroke-width="1"/>
<text x="252.00" y="591.40" font-size="7.8">40</text>
<line x1="247.20" y1="548.30" x2="249.00" y2="548.30" stroke="#231f20" stroke-width="1"/>
<line x1="238.60" y1="548.30" x2="240.40" y2="548.30" stroke="#231f20" stroke-width="1"/>
<text x="252.00" y="551.10" font-size="7.8">60</text>
<line x1="247.20" y1="507.00" x2="249.00" y2="507.00" stroke="#231f20" stroke-width="1"/>
<line x1="238.60" y1="507.00" x2="240.40" y2="507.00" stroke="#231f20" stroke-width="1"/>
<text x="252.00" y="509.80" font-size="7.8">80</text>
<text x="402.40" y="472.10" font-size="10.2" text-anchor="middle" textLength="88.80" lengthAdjust="spacingAndGlyphs">CD44+ CD8+ T-cells</text>
<path d="M346.6 483.5 V635.8 H458.1" fill="none" stroke="#231f20" stroke-width="1.1"/>
<line x1="342.80" y1="635.80" x2="346.60" y2="635.80" stroke="#231f20" stroke-width="1"/>
<text x="340.10" y="638.60" font-size="7.8" text-anchor="end">0</text>
<line x1="342.80" y1="605.88" x2="346.60" y2="605.88" stroke="#231f20" stroke-width="1"/>
<text x="340.10" y="608.67" font-size="7.8" text-anchor="end">5</text>
<line x1="342.80" y1="575.95" x2="346.60" y2="575.95" stroke="#231f20" stroke-width="1"/>
<text x="340.10" y="578.75" font-size="7.8" text-anchor="end">10</text>
<line x1="342.80" y1="546.02" x2="346.60" y2="546.02" stroke="#231f20" stroke-width="1"/>
<text x="340.10" y="548.82" font-size="7.8" text-anchor="end">15</text>
<line x1="342.80" y1="516.10" x2="346.60" y2="516.10" stroke="#231f20" stroke-width="1"/>
<text x="340.10" y="518.90" font-size="7.8" text-anchor="end">20</text>
<line x1="342.80" y1="486.17" x2="346.60" y2="486.17" stroke="#231f20" stroke-width="1"/>
<text x="340.10" y="488.97" font-size="7.8" text-anchor="end">25</text>
<line x1="378.30" y1="635.80" x2="378.30" y2="638.80" stroke="#231f20" stroke-width="1"/>
<line x1="426.20" y1="635.80" x2="426.20" y2="638.80" stroke="#231f20" stroke-width="1"/>
<text transform="translate(322.0,559.3) rotate(-90)" font-size="8" text-anchor="middle">% GzmB<tspan font-size="5.2" dy="-3">+</tspan></text>
<path d="M378.2 515.8 V491.5 H426.1 V502.4" fill="none" stroke="#231f20" stroke-width="1"/>
<text x="401.90" y="489.30" font-size="7.8" text-anchor="middle" textLength="23.70" lengthAdjust="spacingAndGlyphs">0.0187</text>
<circle cx="368.2" cy="523.9" r="2.3" fill="#c8102e"/>
<circle cx="378.6" cy="527.3" r="2.3" fill="#c8102e"/>
<circle cx="378.6" cy="557.4" r="2.3" fill="#c8102e"/>
<circle cx="368.2" cy="586.2" r="2.3" fill="#c8102e"/>
<circle cx="388.5" cy="587.4" r="2.3" fill="#c8102e"/>
<circle cx="368.2" cy="592.5" r="2.3" fill="#c8102e"/>
<circle cx="378.6" cy="590.2" r="2.3" fill="#c8102e"/>
<circle cx="388.5" cy="592.7" r="2.3" fill="#c8102e"/>
<circle cx="378.6" cy="600.5" r="2.3" fill="#c8102e"/>
<circle cx="378.6" cy="605.6" r="2.3" fill="#c8102e"/>
<line x1="362.40" y1="588.50" x2="394.30" y2="588.50" stroke="#231f20" stroke-width="1.1"/>
<circle cx="426.1" cy="510" r="2.3" fill="#0f4c81"/>
<circle cx="436.5" cy="523.9" r="2.3" fill="#0f4c81"/>
<circle cx="416.2" cy="530.1" r="2.3" fill="#0f4c81"/>
<circle cx="426.1" cy="527.3" r="2.3" fill="#0f4c81"/>
<circle cx="436.5" cy="531.5" r="2.3" fill="#0f4c81"/>
<circle cx="416.2" cy="537.3" r="2.3" fill="#0f4c81"/>
<circle cx="426.1" cy="539.6" r="2.3" fill="#0f4c81"/>
<circle cx="436.5" cy="538.9" r="2.3" fill="#0f4c81"/>
<circle cx="426.1" cy="573" r="2.3" fill="#0f4c81"/>
<circle cx="426.1" cy="584.6" r="2.3" fill="#0f4c81"/>
<circle cx="426.1" cy="594.3" r="2.3" fill="#0f4c81"/>
<line x1="411.10" y1="537.00" x2="441.60" y2="537.00" stroke="#231f20" stroke-width="1.1"/>
<text x="378.50" y="648.40" font-size="8.2" text-anchor="middle" textLength="30.00" lengthAdjust="spacingAndGlyphs">Nilotinib</text>
<text x="426.30" y="648.40" font-size="8.2" text-anchor="middle" textLength="30.00" lengthAdjust="spacingAndGlyphs">Nilotinib</text>
<text x="426.30" y="658.20" font-size="8.2" text-anchor="middle" textLength="47.30" lengthAdjust="spacingAndGlyphs">+ PD-L1 mAb</text>
</svg>
</body></html>
